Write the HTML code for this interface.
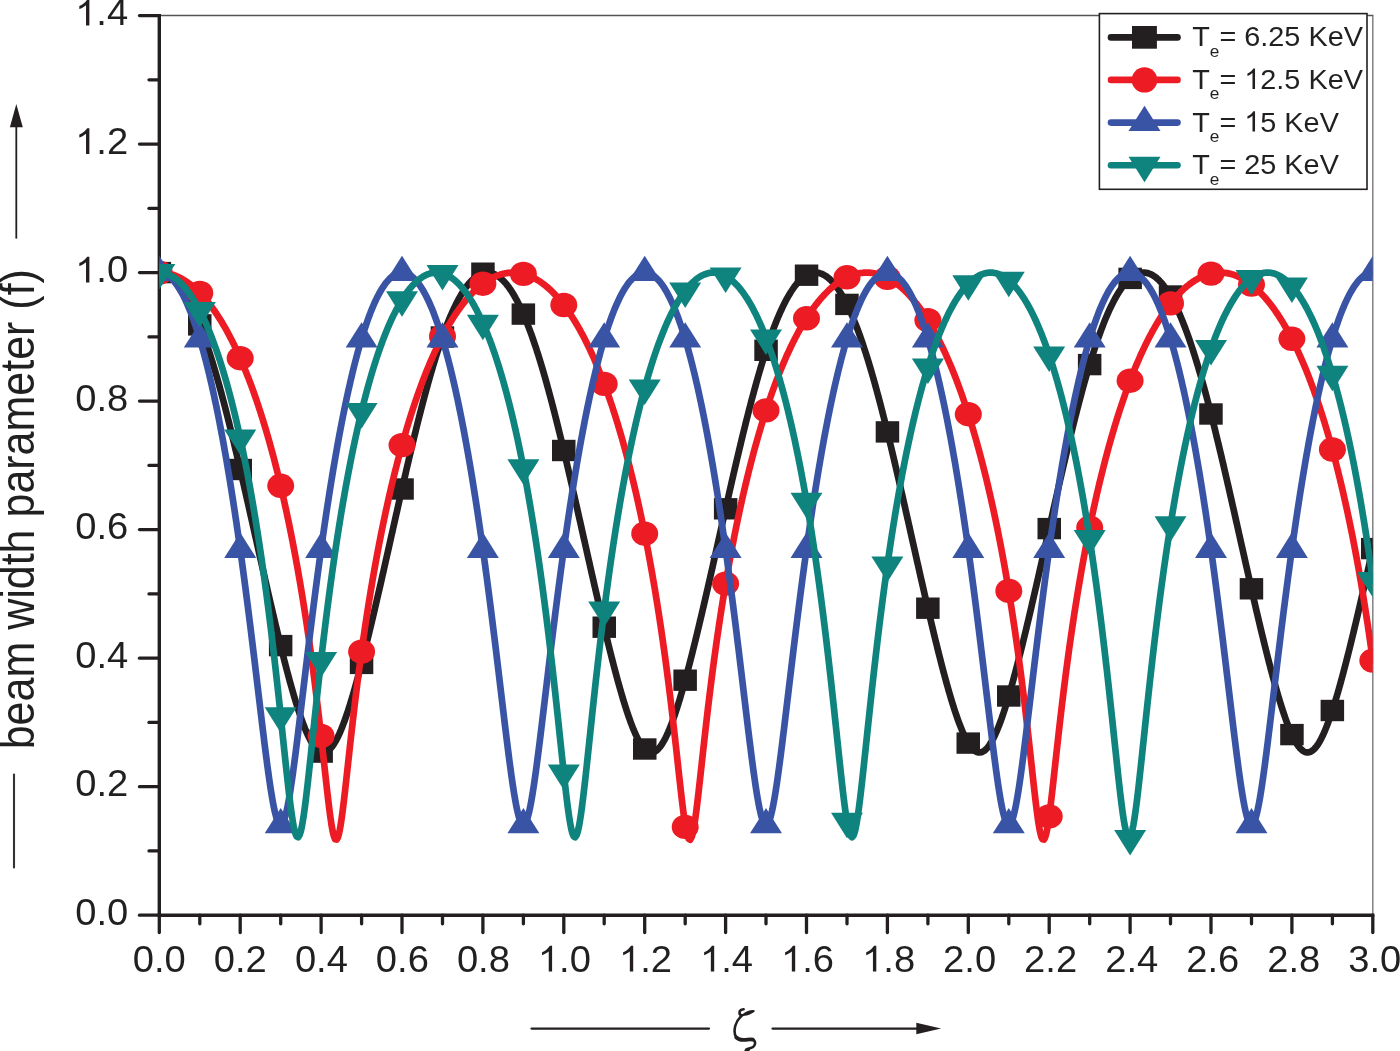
<!DOCTYPE html>
<html><head><meta charset="utf-8"><style>
html,body{margin:0;padding:0;background:#fff;}
svg{display:block;}
text{filter:grayscale(1);}
.tl{font-family:"Liberation Sans",sans-serif;font-size:36px;fill:#231f20;}
.lg{font-family:"Liberation Sans",sans-serif;font-size:28.4px;fill:#231f20;}
.sub{font-size:17px;}
.one{fill:none;}
.yl{font-family:"Liberation Sans",sans-serif;font-size:43px;fill:#231f20;}
.zeta{font-family:"Liberation Serif",serif;font-style:italic;font-size:44px;fill:#231f20;}
</style></head><body>
<svg width="1400" height="1051" viewBox="0 0 1400 1051">
<rect width="1400" height="1051" fill="#fff"/>
<defs><clipPath id="pc"><rect x="159.3" y="15.6" width="1213.4" height="899.6"/></clipPath></defs>
<line x1="159.3" y1="15.5" x2="1373.4" y2="15.5" stroke="#575355" stroke-width="1.3"/>
<line x1="1372.8" y1="15.5" x2="1372.8" y2="915.2" stroke="#7a787a" stroke-width="1.4"/>
<line x1="139.5" y1="915.2" x2="159.3" y2="915.2" stroke="#231f20" stroke-width="3.3" stroke-linecap="round"/>
<line x1="149" y1="850.9" x2="159.3" y2="850.9" stroke="#231f20" stroke-width="3.3" stroke-linecap="round"/>
<line x1="139.5" y1="786.7" x2="159.3" y2="786.7" stroke="#231f20" stroke-width="3.3" stroke-linecap="round"/>
<line x1="149" y1="722.4" x2="159.3" y2="722.4" stroke="#231f20" stroke-width="3.3" stroke-linecap="round"/>
<line x1="139.5" y1="658.2" x2="159.3" y2="658.2" stroke="#231f20" stroke-width="3.3" stroke-linecap="round"/>
<line x1="149" y1="593.9" x2="159.3" y2="593.9" stroke="#231f20" stroke-width="3.3" stroke-linecap="round"/>
<line x1="139.5" y1="529.6" x2="159.3" y2="529.6" stroke="#231f20" stroke-width="3.3" stroke-linecap="round"/>
<line x1="149" y1="465.4" x2="159.3" y2="465.4" stroke="#231f20" stroke-width="3.3" stroke-linecap="round"/>
<line x1="139.5" y1="401.1" x2="159.3" y2="401.1" stroke="#231f20" stroke-width="3.3" stroke-linecap="round"/>
<line x1="149" y1="336.9" x2="159.3" y2="336.9" stroke="#231f20" stroke-width="3.3" stroke-linecap="round"/>
<line x1="139.5" y1="272.6" x2="159.3" y2="272.6" stroke="#231f20" stroke-width="3.3" stroke-linecap="round"/>
<line x1="149" y1="208.3" x2="159.3" y2="208.3" stroke="#231f20" stroke-width="3.3" stroke-linecap="round"/>
<line x1="139.5" y1="144.1" x2="159.3" y2="144.1" stroke="#231f20" stroke-width="3.3" stroke-linecap="round"/>
<line x1="149" y1="79.8" x2="159.3" y2="79.8" stroke="#231f20" stroke-width="3.3" stroke-linecap="round"/>
<line x1="139.5" y1="15.6" x2="159.3" y2="15.6" stroke="#231f20" stroke-width="3.3" stroke-linecap="round"/>
<line x1="159.3" y1="915.2" x2="159.3" y2="932.5" stroke="#231f20" stroke-width="3.3" stroke-linecap="round"/>
<line x1="199.8" y1="915.2" x2="199.8" y2="923.8" stroke="#231f20" stroke-width="3.3" stroke-linecap="round"/>
<line x1="240.2" y1="915.2" x2="240.2" y2="932.5" stroke="#231f20" stroke-width="3.3" stroke-linecap="round"/>
<line x1="280.7" y1="915.2" x2="280.7" y2="923.8" stroke="#231f20" stroke-width="3.3" stroke-linecap="round"/>
<line x1="321.1" y1="915.2" x2="321.1" y2="932.5" stroke="#231f20" stroke-width="3.3" stroke-linecap="round"/>
<line x1="361.6" y1="915.2" x2="361.6" y2="923.8" stroke="#231f20" stroke-width="3.3" stroke-linecap="round"/>
<line x1="402.0" y1="915.2" x2="402.0" y2="932.5" stroke="#231f20" stroke-width="3.3" stroke-linecap="round"/>
<line x1="442.5" y1="915.2" x2="442.5" y2="923.8" stroke="#231f20" stroke-width="3.3" stroke-linecap="round"/>
<line x1="482.9" y1="915.2" x2="482.9" y2="932.5" stroke="#231f20" stroke-width="3.3" stroke-linecap="round"/>
<line x1="523.4" y1="915.2" x2="523.4" y2="923.8" stroke="#231f20" stroke-width="3.3" stroke-linecap="round"/>
<line x1="563.8" y1="915.2" x2="563.8" y2="932.5" stroke="#231f20" stroke-width="3.3" stroke-linecap="round"/>
<line x1="604.2" y1="915.2" x2="604.2" y2="923.8" stroke="#231f20" stroke-width="3.3" stroke-linecap="round"/>
<line x1="644.7" y1="915.2" x2="644.7" y2="932.5" stroke="#231f20" stroke-width="3.3" stroke-linecap="round"/>
<line x1="685.2" y1="915.2" x2="685.2" y2="923.8" stroke="#231f20" stroke-width="3.3" stroke-linecap="round"/>
<line x1="725.6" y1="915.2" x2="725.6" y2="932.5" stroke="#231f20" stroke-width="3.3" stroke-linecap="round"/>
<line x1="766.0" y1="915.2" x2="766.0" y2="923.8" stroke="#231f20" stroke-width="3.3" stroke-linecap="round"/>
<line x1="806.5" y1="915.2" x2="806.5" y2="932.5" stroke="#231f20" stroke-width="3.3" stroke-linecap="round"/>
<line x1="847.0" y1="915.2" x2="847.0" y2="923.8" stroke="#231f20" stroke-width="3.3" stroke-linecap="round"/>
<line x1="887.4" y1="915.2" x2="887.4" y2="932.5" stroke="#231f20" stroke-width="3.3" stroke-linecap="round"/>
<line x1="927.9" y1="915.2" x2="927.9" y2="923.8" stroke="#231f20" stroke-width="3.3" stroke-linecap="round"/>
<line x1="968.3" y1="915.2" x2="968.3" y2="932.5" stroke="#231f20" stroke-width="3.3" stroke-linecap="round"/>
<line x1="1008.8" y1="915.2" x2="1008.8" y2="923.8" stroke="#231f20" stroke-width="3.3" stroke-linecap="round"/>
<line x1="1049.2" y1="915.2" x2="1049.2" y2="932.5" stroke="#231f20" stroke-width="3.3" stroke-linecap="round"/>
<line x1="1089.7" y1="915.2" x2="1089.7" y2="923.8" stroke="#231f20" stroke-width="3.3" stroke-linecap="round"/>
<line x1="1130.1" y1="915.2" x2="1130.1" y2="932.5" stroke="#231f20" stroke-width="3.3" stroke-linecap="round"/>
<line x1="1170.5" y1="915.2" x2="1170.5" y2="923.8" stroke="#231f20" stroke-width="3.3" stroke-linecap="round"/>
<line x1="1211.0" y1="915.2" x2="1211.0" y2="932.5" stroke="#231f20" stroke-width="3.3" stroke-linecap="round"/>
<line x1="1251.5" y1="915.2" x2="1251.5" y2="923.8" stroke="#231f20" stroke-width="3.3" stroke-linecap="round"/>
<line x1="1291.9" y1="915.2" x2="1291.9" y2="932.5" stroke="#231f20" stroke-width="3.3" stroke-linecap="round"/>
<line x1="1332.4" y1="915.2" x2="1332.4" y2="923.8" stroke="#231f20" stroke-width="3.3" stroke-linecap="round"/>
<line x1="1372.8" y1="915.2" x2="1372.8" y2="932.5" stroke="#231f20" stroke-width="3.3" stroke-linecap="round"/>
<line x1="159.3" y1="14" x2="159.3" y2="917.0" stroke="#231f20" stroke-width="3.4"/>
<line x1="157.6" y1="915.2" x2="1374.3" y2="915.2" stroke="#231f20" stroke-width="3.6"/>
<g clip-path="url(#pc)">
<path d="M159.3,272.6 160.8,272.7 162.3,272.9 163.8,273.2 165.3,273.8 166.8,274.4 168.3,275.2 169.8,276.1 171.3,277.2 172.8,278.4 174.3,279.8 175.8,281.3 177.3,283.0 178.8,284.8 180.3,286.8 181.8,288.8 183.3,291.1 184.3,292.7 185.3,294.3 186.3,296.0 187.3,297.7 188.3,299.6 189.3,301.5 190.3,303.4 191.3,305.4 192.3,307.5 193.3,309.6 194.3,311.8 195.3,314.1 196.3,316.4 197.3,318.8 198.3,321.2 199.3,323.8 200.3,326.3 201.3,328.9 202.3,331.6 203.3,334.4 204.3,337.2 205.3,340.0 206.3,343.0 207.3,345.9 207.8,347.4 208.3,349.0 208.8,350.5 209.3,352.0 209.8,353.6 210.3,355.2 210.8,356.8 211.3,358.4 211.8,360.0 212.3,361.6 212.8,363.2 213.3,364.9 213.8,366.6 214.3,368.3 214.8,369.9 215.3,371.6 215.8,373.4 216.3,375.1 216.8,376.8 217.3,378.6 217.8,380.4 218.3,382.1 218.8,383.9 219.3,385.7 219.8,387.5 220.3,389.4 220.8,391.2 221.3,393.0 221.8,394.9 222.3,396.8 222.8,398.6 223.3,400.5 223.8,402.4 224.3,404.3 224.8,406.3 225.3,408.2 225.8,410.1 226.3,412.1 226.8,414.0 227.3,416.0 227.8,418.0 228.3,419.9 228.8,421.9 229.3,423.9 229.8,426.0 230.3,428.0 230.8,430.0 231.3,432.0 231.8,434.1 232.3,436.1 232.8,438.2 233.3,440.2 233.8,442.3 234.3,444.4 234.8,446.5 235.3,448.6 235.8,450.7 236.3,452.8 236.8,454.9 237.3,457.0 237.8,459.1 238.3,461.3 238.8,463.4 239.3,465.5 239.8,467.7 240.3,469.8 240.8,472.0 241.3,474.2 241.8,476.3 242.3,478.5 242.8,480.7 243.3,482.8 243.8,485.0 244.3,487.2 244.8,489.4 245.3,491.6 245.8,493.8 246.3,496.0 246.8,498.2 247.3,500.4 247.8,502.6 248.3,504.8 248.8,507.0 249.3,509.2 249.8,511.4 250.3,513.7 250.8,515.9 251.3,518.1 251.8,520.3 252.3,522.5 252.8,524.8 253.3,527.0 253.8,529.2 254.3,531.4 254.8,533.7 255.3,535.9 255.8,538.1 256.3,540.3 256.8,542.6 257.3,544.8 257.8,547.0 258.3,549.3 258.8,551.5 259.3,553.7 259.8,555.9 260.3,558.1 260.8,560.4 261.3,562.6 261.8,564.8 262.3,567.0 262.8,569.2 263.3,571.4 263.8,573.6 264.3,575.8 264.8,578.0 265.3,580.2 265.8,582.4 266.3,584.6 266.8,586.8 267.3,589.0 267.8,591.2 268.3,593.4 268.8,595.5 269.3,597.7 269.8,599.9 270.3,602.0 270.8,604.2 271.3,606.3 271.8,608.5 272.3,610.6 272.8,612.8 273.3,614.9 273.8,617.0 274.3,619.1 274.8,621.2 275.3,623.4 275.8,625.5 276.3,627.5 276.8,629.6 277.3,631.7 277.8,633.8 278.3,635.8 278.8,637.9 279.3,640.0 279.8,642.0 280.3,644.0 280.7,646.0 281.2,648.1 281.7,650.1 282.2,652.1 282.7,654.1 283.2,656.0 283.7,658.0 284.2,660.0 284.7,661.9 285.2,663.8 285.7,665.8 286.2,667.7 286.7,669.6 287.2,671.5 287.7,673.4 288.2,675.2 288.7,677.1 289.2,678.9 289.7,680.8 290.2,682.6 290.7,684.4 291.2,686.2 291.7,687.9 292.2,689.7 292.7,691.4 293.2,693.2 293.7,694.9 294.2,696.6 294.7,698.2 295.2,699.9 295.7,701.6 296.2,703.2 296.7,704.8 297.2,706.4 297.7,708.0 298.2,709.5 298.7,711.0 299.2,712.5 300.2,715.5 301.2,718.4 302.2,721.2 303.2,723.9 304.2,726.5 305.2,729.0 306.2,731.3 307.2,733.6 308.2,735.8 309.2,737.8 310.2,739.8 311.2,741.6 312.2,743.3 313.2,744.8 314.7,746.9 316.2,748.6 317.7,750.1 319.2,751.2 320.7,751.9 322.2,752.4 323.7,752.4 325.2,752.2 326.7,751.6 328.2,750.6 329.7,749.4 331.2,747.7 332.7,745.8 334.2,743.6 335.2,741.9 336.2,740.2 337.2,738.3 338.2,736.2 339.2,734.1 340.2,731.8 341.2,729.5 342.2,727.0 343.2,724.4 344.2,721.8 345.2,719.0 346.2,716.1 347.2,713.2 347.7,711.7 348.2,710.2 348.7,708.6 349.2,707.1 349.7,705.5 350.2,703.9 350.7,702.2 351.2,700.6 351.7,699.0 352.2,697.3 352.7,695.6 353.2,693.9 353.7,692.2 354.2,690.4 354.7,688.7 355.2,686.9 355.7,685.1 356.2,683.3 356.7,681.5 357.2,679.7 357.7,677.9 358.2,676.0 358.7,674.2 359.2,672.3 359.7,670.4 360.2,668.5 360.7,666.6 361.2,664.7 361.7,662.7 362.2,660.8 362.7,658.8 363.2,656.9 363.7,654.9 364.2,652.9 364.7,650.9 365.2,648.9 365.7,646.9 366.2,644.9 366.7,642.9 367.2,640.8 367.7,638.8 368.2,636.7 368.7,634.7 369.2,632.6 369.7,630.5 370.2,628.4 370.7,626.3 371.2,624.2 371.7,622.1 372.2,620.0 372.7,617.9 373.2,615.8 373.7,613.7 374.2,611.5 374.7,609.4 375.2,607.3 375.7,605.1 376.2,602.9 376.7,600.8 377.2,598.6 377.7,596.5 378.2,594.3 378.7,592.1 379.2,589.9 379.7,587.7 380.2,585.6 380.7,583.4 381.2,581.2 381.7,579.0 382.2,576.8 382.7,574.6 383.2,572.4 383.7,570.2 384.2,567.9 384.7,565.7 385.2,563.5 385.7,561.3 386.2,559.1 386.7,556.9 387.2,554.6 387.7,552.4 388.2,550.2 388.7,548.0 389.2,545.8 389.7,543.5 390.2,541.3 390.7,539.1 391.2,536.8 391.7,534.6 392.2,532.4 392.7,530.2 393.2,527.9 393.7,525.7 394.2,523.5 394.7,521.3 395.2,519.0 395.7,516.8 396.2,514.6 396.7,512.4 397.2,510.2 397.7,508.0 398.2,505.7 398.7,503.5 399.2,501.3 399.7,499.1 400.2,496.9 400.7,494.7 401.2,492.5 401.7,490.3 402.2,488.1 402.7,485.9 403.2,483.8 403.7,481.6 404.2,479.4 404.7,477.2 405.2,475.1 405.7,472.9 406.2,470.8 406.7,468.6 407.2,466.5 407.7,464.3 408.2,462.2 408.7,460.0 409.2,457.9 409.7,455.8 410.2,453.7 410.7,451.6 411.2,449.5 411.7,447.4 412.2,445.3 412.7,443.2 413.2,441.1 413.7,439.1 414.2,437.0 414.7,434.9 415.2,432.9 415.7,430.9 416.2,428.8 416.7,426.8 417.2,424.8 417.7,422.8 418.2,420.8 418.7,418.8 419.2,416.8 419.7,414.9 420.2,412.9 420.7,410.9 421.2,409.0 421.7,407.1 422.2,405.2 422.7,403.2 423.2,401.3 423.7,399.4 424.2,397.6 424.7,395.7 425.2,393.8 425.7,392.0 426.2,390.1 426.7,388.3 427.2,386.5 427.7,384.7 428.2,382.9 428.7,381.1 429.2,379.3 429.7,377.6 430.2,375.8 430.7,374.1 431.2,372.4 431.7,370.7 432.2,369.0 432.7,367.3 433.2,365.6 433.7,364.0 434.2,362.3 434.7,360.7 435.2,359.1 435.7,357.4 436.2,355.8 436.7,354.3 437.2,352.7 437.7,351.1 438.2,349.6 438.7,348.1 439.2,346.6 440.2,343.6 441.2,340.7 442.2,337.8 443.2,335.0 444.2,332.2 445.2,329.5 446.2,326.9 447.2,324.3 448.2,321.8 449.2,319.3 450.2,316.9 451.2,314.6 452.2,312.3 453.2,310.1 454.2,307.9 455.2,305.9 456.2,303.8 457.2,301.9 458.2,300.0 459.2,298.1 460.2,296.4 461.2,294.6 462.2,293.0 463.2,291.4 464.2,289.9 465.7,287.7 467.2,285.7 468.7,283.8 470.2,282.1 471.7,280.5 473.2,279.1 474.7,277.8 476.2,276.6 477.7,275.6 479.2,274.8 480.7,274.0 482.2,273.5 483.7,273.0 485.2,272.8 486.7,272.6 488.2,272.6 489.7,272.8 491.2,273.1 492.7,273.5 494.2,274.1 495.7,274.8 497.2,275.7 498.7,276.7 500.2,277.8 501.7,279.2 503.2,280.6 504.7,282.2 506.2,283.9 507.7,285.8 509.2,287.8 510.7,290.0 511.7,291.5 512.7,293.1 513.7,294.8 514.7,296.5 515.7,298.3 516.7,300.1 517.7,302.0 518.7,304.0 519.7,306.0 520.7,308.1 521.7,310.3 522.7,312.5 523.6,314.8 524.6,317.1 525.6,319.5 526.6,322.0 527.6,324.5 528.6,327.1 529.6,329.7 530.6,332.4 531.6,335.2 532.6,338.0 533.6,340.9 534.6,343.8 535.6,346.8 536.1,348.3 536.6,349.8 537.1,351.4 537.6,352.9 538.1,354.5 538.6,356.1 539.1,357.7 539.6,359.3 540.1,360.9 540.6,362.5 541.1,364.2 541.6,365.9 542.1,367.5 542.6,369.2 543.1,370.9 543.6,372.6 544.1,374.4 544.6,376.1 545.1,377.8 545.6,379.6 546.1,381.4 546.6,383.2 547.1,385.0 547.6,386.8 548.1,388.6 548.6,390.4 549.1,392.3 549.6,394.1 550.1,396.0 550.6,397.8 551.1,399.7 551.6,401.6 552.1,403.5 552.6,405.4 553.1,407.4 553.6,409.3 554.1,411.2 554.6,413.2 555.1,415.2 555.6,417.1 556.1,419.1 556.6,421.1 557.1,423.1 557.6,425.1 558.1,427.1 558.6,429.1 559.1,431.2 559.6,433.2 560.1,435.3 560.6,437.3 561.1,439.4 561.6,441.4 562.1,443.5 562.6,445.6 563.1,447.7 563.6,449.8 564.1,451.9 564.6,454.0 565.1,456.1 565.6,458.2 566.1,460.4 566.6,462.5 567.1,464.6 567.6,466.8 568.1,468.9 568.6,471.1 569.1,473.2 569.6,475.4 570.1,477.6 570.6,479.7 571.1,481.9 571.6,484.1 572.1,486.3 572.6,488.5 573.1,490.7 573.6,492.8 574.1,495.0 574.6,497.2 575.1,499.4 575.6,501.7 576.1,503.9 576.6,506.1 577.1,508.3 577.6,510.5 578.1,512.7 578.6,514.9 579.1,517.2 579.6,519.4 580.1,521.6 580.6,523.8 581.1,526.0 581.6,528.3 582.1,530.5 582.6,532.7 583.1,534.9 583.6,537.2 584.1,539.4 584.6,541.6 585.1,543.9 585.6,546.1 586.1,548.3 586.6,550.5 587.1,552.8 587.6,555.0 588.1,557.2 588.6,559.4 589.1,561.6 589.6,563.8 590.1,566.1 590.6,568.3 591.1,570.5 591.6,572.7 592.1,574.9 592.6,577.1 593.1,579.3 593.6,581.5 594.1,583.7 594.6,585.9 595.1,588.1 595.6,590.3 596.1,592.4 596.6,594.6 597.1,596.8 597.6,598.9 598.1,601.1 598.6,603.3 599.1,605.4 599.6,607.6 600.1,609.7 600.6,611.9 601.1,614.0 601.6,616.1 602.1,618.2 602.6,620.3 603.1,622.5 603.6,624.6 604.1,626.7 604.6,628.7 605.1,630.8 605.6,632.9 606.1,635.0 606.6,637.0 607.1,639.1 607.6,641.1 608.1,643.2 608.6,645.2 609.1,647.2 609.6,649.2 610.1,651.2 610.6,653.2 611.1,655.2 611.6,657.2 612.1,659.1 612.6,661.1 613.1,663.0 613.6,665.0 614.1,666.9 614.6,668.8 615.1,670.7 615.6,672.6 616.1,674.4 616.6,676.3 617.1,678.1 617.6,680.0 618.1,681.8 618.6,683.6 619.1,685.4 619.6,687.2 620.1,688.9 620.6,690.7 621.1,692.4 621.6,694.1 622.1,695.8 622.6,697.5 623.1,699.2 623.6,700.9 624.1,702.5 624.6,704.1 625.1,705.7 625.6,707.3 626.1,708.8 626.6,710.4 627.1,711.9 627.6,713.4 628.6,716.3 629.6,719.2 630.6,722.0 631.6,724.6 632.6,727.2 633.6,729.6 634.6,732.0 635.6,734.3 636.6,736.4 637.6,738.4 638.6,740.3 639.6,742.1 640.6,743.7 641.6,745.2 643.1,747.2 644.6,748.9 646.1,750.3 647.6,751.3 649.1,752.0 650.6,752.4 652.1,752.4 653.6,752.1 655.1,751.4 656.6,750.4 658.1,749.1 659.6,747.4 661.1,745.4 662.6,743.1 663.6,741.4 664.6,739.6 665.6,737.7 666.6,735.6 667.6,733.5 668.6,731.2 669.6,728.8 670.6,726.3 671.6,723.7 672.6,721.0 673.6,718.2 674.6,715.3 675.6,712.3 676.1,710.8 676.6,709.3 677.1,707.7 677.6,706.1 678.1,704.6 678.6,702.9 679.1,701.3 679.6,699.7 680.1,698.0 680.6,696.3 681.1,694.6 681.6,692.9 682.1,691.2 682.6,689.4 683.1,687.7 683.6,685.9 684.1,684.1 684.6,682.3 685.1,680.5 685.6,678.7 686.1,676.8 686.6,675.0 687.1,673.1 687.6,671.2 688.1,669.3 688.6,667.4 689.1,665.5 689.6,663.6 690.1,661.6 690.6,659.7 691.1,657.7 691.6,655.7 692.1,653.8 692.6,651.8 693.1,649.8 693.6,647.8 694.1,645.7 694.6,643.7 695.1,641.7 695.6,639.6 696.1,637.6 696.6,635.5 697.1,633.5 697.6,631.4 698.1,629.3 698.6,627.2 699.1,625.1 699.6,623.0 700.1,620.9 700.6,618.8 701.1,616.7 701.6,614.6 702.1,612.4 702.6,610.3 703.1,608.2 703.6,606.0 704.1,603.9 704.6,601.7 705.1,599.5 705.6,597.4 706.1,595.2 706.6,593.0 707.1,590.9 707.6,588.7 708.1,586.5 708.6,584.3 709.1,582.1 709.6,579.9 710.1,577.7 710.6,575.5 711.1,573.3 711.6,571.1 712.1,568.9 712.6,566.7 713.1,564.5 713.6,562.2 714.1,560.0 714.6,557.8 715.1,555.6 715.6,553.4 716.1,551.1 716.6,548.9 717.1,546.7 717.6,544.5 718.1,542.2 718.6,540.0 719.1,537.8 719.6,535.6 720.1,533.3 720.6,531.1 721.1,528.9 721.6,526.7 722.1,524.4 722.6,522.2 723.1,520.0 723.6,517.8 724.1,515.5 724.6,513.3 725.1,511.1 725.6,508.9 726.1,506.7 726.6,504.5 727.1,502.3 727.6,500.1 728.1,497.9 728.6,495.7 729.1,493.5 729.6,491.3 730.1,489.1 730.6,486.9 731.1,484.7 731.6,482.5 732.1,480.3 732.6,478.2 733.1,476.0 733.6,473.8 734.1,471.7 734.6,469.5 735.1,467.4 735.6,465.2 736.1,463.1 736.6,460.9 737.1,458.8 737.6,456.7 738.1,454.6 738.6,452.5 739.1,450.4 739.6,448.3 740.1,446.2 740.6,444.1 741.1,442.0 741.6,439.9 742.1,437.9 742.6,435.8 743.1,433.8 743.6,431.7 744.1,429.7 744.6,427.7 745.1,425.7 745.6,423.6 746.1,421.6 746.6,419.7 747.1,417.7 747.6,415.7 748.1,413.7 748.6,411.8 749.1,409.8 749.6,407.9 750.1,406.0 750.6,404.1 751.1,402.1 751.6,400.2 752.1,398.4 752.6,396.5 753.1,394.6 753.6,392.8 754.1,390.9 754.6,389.1 755.1,387.3 755.6,385.5 756.1,383.7 756.6,381.9 757.1,380.1 757.6,378.3 758.1,376.6 758.6,374.8 759.1,373.1 759.6,371.4 760.1,369.7 760.6,368.0 761.1,366.3 761.6,364.7 762.1,363.0 762.6,361.4 763.1,359.7 763.6,358.1 764.1,356.5 764.6,354.9 765.1,353.4 765.6,351.8 766.0,350.3 766.5,348.7 767.0,347.2 767.5,345.7 768.5,342.7 769.5,339.8 770.5,337.0 771.5,334.2 772.5,331.4 773.5,328.7 774.5,326.1 775.5,323.6 776.5,321.1 777.5,318.6 778.5,316.2 779.5,313.9 780.5,311.7 781.5,309.5 782.5,307.3 783.5,305.3 784.5,303.3 785.5,301.3 786.5,299.4 787.5,297.6 788.5,295.9 789.5,294.2 790.5,292.5 791.5,291.0 792.5,289.5 794.0,287.3 795.5,285.3 797.0,283.5 798.5,281.8 800.0,280.2 801.5,278.8 803.0,277.6 804.5,276.4 806.0,275.5 807.5,274.6 809.0,273.9 810.5,273.4 812.0,273.0 813.5,272.7 815.0,272.6 816.5,272.6 818.0,272.8 819.5,273.1 821.0,273.6 822.5,274.2 824.0,275.0 825.5,275.9 827.0,276.9 828.5,278.1 830.0,279.4 831.5,280.9 833.0,282.5 834.5,284.3 836.0,286.2 837.5,288.2 839.0,290.4 840.0,292.0 841.0,293.6 842.0,295.3 843.0,297.0 844.0,298.8 845.0,300.6 846.0,302.6 847.0,304.6 848.0,306.6 849.0,308.7 850.0,310.9 851.0,313.1 852.0,315.4 853.0,317.8 854.0,320.2 855.0,322.7 856.0,325.2 857.0,327.8 858.0,330.5 859.0,333.2 860.0,336.0 861.0,338.8 862.0,341.7 863.0,344.6 864.0,347.7 864.5,349.2 865.0,350.7 865.5,352.3 866.0,353.8 866.5,355.4 867.0,357.0 867.5,358.6 868.0,360.2 868.5,361.8 869.0,363.5 869.5,365.2 870.0,366.8 870.5,368.5 871.0,370.2 871.5,371.9 872.0,373.6 872.5,375.4 873.0,377.1 873.5,378.9 874.0,380.6 874.5,382.4 875.0,384.2 875.5,386.0 876.0,387.8 876.5,389.6 877.0,391.5 877.5,393.3 878.0,395.2 878.5,397.0 879.0,398.9 879.5,400.8 880.0,402.7 880.5,404.6 881.0,406.5 881.5,408.5 882.0,410.4 882.5,412.4 883.0,414.3 883.5,416.3 884.0,418.3 884.5,420.2 885.0,422.2 885.5,424.2 886.0,426.3 886.5,428.3 887.0,430.3 887.5,432.3 888.0,434.4 888.5,436.4 889.0,438.5 889.5,440.6 890.0,442.6 890.5,444.7 891.0,446.8 891.5,448.9 892.0,451.0 892.5,453.1 893.0,455.2 893.5,457.3 894.0,459.5 894.5,461.6 895.0,463.7 895.5,465.9 896.0,468.0 896.5,470.2 897.0,472.3 897.5,474.5 898.0,476.6 898.5,478.8 899.0,481.0 899.5,483.2 900.0,485.3 900.5,487.5 901.0,489.7 901.5,491.9 902.0,494.1 902.5,496.3 903.0,498.5 903.5,500.7 904.0,502.9 904.5,505.1 905.0,507.3 905.5,509.6 906.0,511.8 906.5,514.0 907.0,516.2 907.5,518.4 908.0,520.6 908.5,522.9 909.0,525.1 909.5,527.3 910.0,529.5 910.5,531.8 911.0,534.0 911.5,536.2 912.0,538.5 912.5,540.7 913.0,542.9 913.5,545.1 914.0,547.4 914.5,549.6 915.0,551.8 915.5,554.0 916.0,556.2 916.5,558.5 917.0,560.7 917.5,562.9 918.0,565.1 918.5,567.3 919.0,569.5 919.5,571.8 920.0,574.0 920.5,576.2 921.0,578.4 921.5,580.6 922.0,582.8 922.5,584.9 923.0,587.1 923.5,589.3 924.0,591.5 924.5,593.7 925.0,595.9 925.5,598.0 926.0,600.2 926.5,602.3 927.0,604.5 927.5,606.7 928.0,608.8 928.5,610.9 929.0,613.1 929.5,615.2 930.0,617.3 930.5,619.4 931.0,621.6 931.5,623.7 932.0,625.8 932.5,627.9 933.0,629.9 933.5,632.0 934.0,634.1 934.5,636.2 935.0,638.2 935.5,640.3 936.0,642.3 936.5,644.3 937.0,646.3 937.5,648.4 938.0,650.4 938.5,652.4 939.0,654.3 939.5,656.3 940.0,658.3 940.5,660.2 941.0,662.2 941.5,664.1 942.0,666.1 942.5,668.0 943.0,669.9 943.5,671.8 944.0,673.6 944.5,675.5 945.0,677.4 945.5,679.2 946.0,681.0 946.5,682.8 947.0,684.6 947.5,686.4 948.0,688.2 948.5,690.0 949.0,691.7 949.5,693.4 950.0,695.1 950.5,696.8 951.0,698.5 951.5,700.2 952.0,701.8 952.5,703.4 953.0,705.0 953.5,706.6 954.0,708.2 954.5,709.7 955.0,711.3 955.5,712.8 956.5,715.7 957.5,718.6 958.5,721.4 959.5,724.1 960.5,726.6 961.5,729.1 962.5,731.5 963.5,733.8 964.5,735.9 965.5,738.0 966.5,739.9 967.5,741.7 968.5,743.4 969.5,744.9 971.0,747.0 972.5,748.7 974.0,750.1 975.5,751.2 977.0,752.0 978.5,752.4 980.0,752.4 981.5,752.2 983.0,751.5 984.5,750.6 986.0,749.3 987.5,747.7 989.0,745.7 990.5,743.5 991.5,741.8 992.5,740.0 993.5,738.1 994.5,736.1 995.5,733.9 996.5,731.7 997.5,729.3 998.5,726.8 999.5,724.2 1000.5,721.5 1001.5,718.8 1002.5,715.9 1003.5,713.0 1004.0,711.5 1004.5,709.9 1005.0,708.4 1005.5,706.8 1006.0,705.2 1006.5,703.6 1007.0,702.0 1007.5,700.4 1008.0,698.7 1008.5,697.0 1008.9,695.3 1009.4,693.6 1009.9,691.9 1010.4,690.2 1010.9,688.4 1011.4,686.7 1011.9,684.9 1012.4,683.1 1012.9,681.3 1013.4,679.4 1013.9,677.6 1014.4,675.7 1014.9,673.9 1015.4,672.0 1015.9,670.1 1016.4,668.2 1016.9,666.3 1017.4,664.4 1017.9,662.4 1018.4,660.5 1018.9,658.5 1019.4,656.6 1019.9,654.6 1020.4,652.6 1020.9,650.6 1021.4,648.6 1021.9,646.6 1022.4,644.6 1022.9,642.6 1023.4,640.5 1023.9,638.5 1024.4,636.4 1024.9,634.4 1025.4,632.3 1025.9,630.2 1026.4,628.1 1026.9,626.0 1027.4,623.9 1027.9,621.8 1028.4,619.7 1028.9,617.6 1029.4,615.5 1029.9,613.4 1030.4,611.2 1030.9,609.1 1031.4,606.9 1031.9,604.8 1032.4,602.6 1032.9,600.5 1033.4,598.3 1033.9,596.1 1034.4,594.0 1034.9,591.8 1035.4,589.6 1035.9,587.4 1036.4,585.2 1036.9,583.0 1037.4,580.8 1037.9,578.7 1038.4,576.4 1038.9,574.2 1039.4,572.0 1039.9,569.8 1040.4,567.6 1040.9,565.4 1041.4,563.2 1041.9,561.0 1042.4,558.8 1042.9,556.5 1043.4,554.3 1043.9,552.1 1044.4,549.9 1044.9,547.6 1045.4,545.4 1045.9,543.2 1046.4,541.0 1046.9,538.7 1047.4,536.5 1047.9,534.3 1048.4,532.1 1048.9,529.8 1049.4,527.6 1049.9,525.4 1050.4,523.2 1050.9,520.9 1051.4,518.7 1051.9,516.5 1052.4,514.3 1052.9,512.1 1053.4,509.8 1053.9,507.6 1054.4,505.4 1054.9,503.2 1055.4,501.0 1055.9,498.8 1056.4,496.6 1056.9,494.4 1057.4,492.2 1057.9,490.0 1058.4,487.8 1058.9,485.6 1059.4,483.4 1059.9,481.3 1060.4,479.1 1060.9,476.9 1061.4,474.8 1061.9,472.6 1062.4,470.4 1062.9,468.3 1063.4,466.1 1063.9,464.0 1064.4,461.9 1064.9,459.7 1065.4,457.6 1065.9,455.5 1066.4,453.4 1066.9,451.3 1067.4,449.2 1067.9,447.1 1068.4,445.0 1068.9,442.9 1069.4,440.8 1069.9,438.8 1070.4,436.7 1070.9,434.6 1071.4,432.6 1071.9,430.6 1072.4,428.5 1072.9,426.5 1073.4,424.5 1073.9,422.5 1074.4,420.5 1074.9,418.5 1075.4,416.5 1075.9,414.6 1076.4,412.6 1076.9,410.7 1077.4,408.7 1077.9,406.8 1078.4,404.9 1078.9,403.0 1079.4,401.1 1079.9,399.2 1080.4,397.3 1080.9,395.4 1081.4,393.6 1081.9,391.7 1082.4,389.9 1082.9,388.0 1083.4,386.2 1083.9,384.4 1084.4,382.6 1084.9,380.9 1085.4,379.1 1085.9,377.3 1086.4,375.6 1086.9,373.8 1087.4,372.1 1087.9,370.4 1088.4,368.7 1088.9,367.0 1089.4,365.4 1089.9,363.7 1090.4,362.1 1090.9,360.4 1091.4,358.8 1091.9,357.2 1092.4,355.6 1092.9,354.0 1093.4,352.5 1093.9,350.9 1094.4,349.4 1094.9,347.9 1095.4,346.3 1096.4,343.4 1097.4,340.4 1098.4,337.6 1099.4,334.8 1100.4,332.0 1101.4,329.3 1102.4,326.7 1103.4,324.1 1104.4,321.6 1105.4,319.1 1106.4,316.7 1107.4,314.4 1108.4,312.1 1109.4,309.9 1110.4,307.8 1111.4,305.7 1112.4,303.7 1113.4,301.7 1114.4,299.8 1115.4,298.0 1116.4,296.2 1117.4,294.5 1118.4,292.9 1119.4,291.3 1120.4,289.8 1121.9,287.6 1123.4,285.6 1124.9,283.7 1126.4,282.0 1127.9,280.4 1129.4,279.0 1130.9,277.7 1132.4,276.6 1133.9,275.6 1135.4,274.7 1136.9,274.0 1138.4,273.4 1139.9,273.0 1141.4,272.7 1142.9,272.6 1144.4,272.6 1145.9,272.8 1147.4,273.1 1148.9,273.5 1150.4,274.1 1151.9,274.8 1153.4,275.7 1154.9,276.7 1156.4,277.9 1157.9,279.2 1159.4,280.7 1160.9,282.3 1162.4,284.0 1163.9,285.9 1165.4,287.9 1166.9,290.1 1167.9,291.6 1168.9,293.2 1169.9,294.9 1170.9,296.6 1171.9,298.4 1172.9,300.2 1173.9,302.2 1174.9,304.1 1175.9,306.2 1176.9,308.3 1177.9,310.4 1178.9,312.6 1179.9,314.9 1180.9,317.3 1181.9,319.7 1182.9,322.1 1183.9,324.7 1184.9,327.3 1185.9,329.9 1186.9,332.6 1187.9,335.4 1188.9,338.2 1189.9,341.1 1190.9,344.0 1191.9,347.0 1192.4,348.5 1192.9,350.1 1193.4,351.6 1193.9,353.2 1194.4,354.7 1194.9,356.3 1195.4,357.9 1195.9,359.5 1196.4,361.2 1196.9,362.8 1197.4,364.4 1197.9,366.1 1198.4,367.8 1198.9,369.5 1199.4,371.2 1199.9,372.9 1200.4,374.6 1200.9,376.4 1201.4,378.1 1201.9,379.9 1202.4,381.6 1202.9,383.4 1203.4,385.2 1203.9,387.0 1204.4,388.9 1204.9,390.7 1205.4,392.5 1205.9,394.4 1206.4,396.2 1206.9,398.1 1207.4,400.0 1207.9,401.9 1208.4,403.8 1208.9,405.7 1209.4,407.6 1209.9,409.6 1210.4,411.5 1210.9,413.5 1211.4,415.4 1211.9,417.4 1212.4,419.4 1212.9,421.4 1213.4,423.4 1213.9,425.4 1214.4,427.4 1214.9,429.4 1215.4,431.5 1215.9,433.5 1216.4,435.6 1216.9,437.6 1217.4,439.7 1217.9,441.7 1218.4,443.8 1218.9,445.9 1219.4,448.0 1219.9,450.1 1220.4,452.2 1220.9,454.3 1221.4,456.4 1221.9,458.5 1222.4,460.7 1222.9,462.8 1223.4,464.9 1223.9,467.1 1224.4,469.2 1224.9,471.4 1225.4,473.6 1225.9,475.7 1226.4,477.9 1226.9,480.1 1227.4,482.2 1227.9,484.4 1228.4,486.6 1228.9,488.8 1229.4,491.0 1229.9,493.2 1230.4,495.4 1230.9,497.6 1231.4,499.8 1231.9,502.0 1232.4,504.2 1232.9,506.4 1233.4,508.6 1233.9,510.8 1234.4,513.0 1234.9,515.3 1235.4,517.5 1235.9,519.7 1236.4,521.9 1236.9,524.1 1237.4,526.4 1237.9,528.6 1238.4,530.8 1238.9,533.1 1239.4,535.3 1239.9,537.5 1240.4,539.7 1240.9,542.0 1241.4,544.2 1241.9,546.4 1242.4,548.6 1242.9,550.9 1243.4,553.1 1243.9,555.3 1244.4,557.5 1244.9,559.7 1245.4,562.0 1245.9,564.2 1246.4,566.4 1246.9,568.6 1247.4,570.8 1247.9,573.0 1248.4,575.2 1248.9,577.4 1249.4,579.6 1249.9,581.8 1250.4,584.0 1250.9,586.2 1251.4,588.4 1251.8,590.6 1252.3,592.8 1252.8,594.9 1253.3,597.1 1253.8,599.3 1254.3,601.4 1254.8,603.6 1255.3,605.7 1255.8,607.9 1256.3,610.0 1256.8,612.2 1257.3,614.3 1257.8,616.4 1258.3,618.5 1258.8,620.7 1259.3,622.8 1259.8,624.9 1260.3,627.0 1260.8,629.1 1261.3,631.1 1261.8,633.2 1262.3,635.3 1262.8,637.3 1263.3,639.4 1263.8,641.4 1264.3,643.5 1264.8,645.5 1265.3,647.5 1265.8,649.5 1266.3,651.5 1266.8,653.5 1267.3,655.5 1267.8,657.5 1268.3,659.4 1268.8,661.4 1269.3,663.3 1269.8,665.2 1270.3,667.2 1270.8,669.1 1271.3,671.0 1271.8,672.8 1272.3,674.7 1272.8,676.6 1273.3,678.4 1273.8,680.2 1274.3,682.1 1274.8,683.9 1275.3,685.7 1275.8,687.4 1276.3,689.2 1276.8,691.0 1277.3,692.7 1277.8,694.4 1278.3,696.1 1278.8,697.8 1279.3,699.4 1279.8,701.1 1280.3,702.7 1280.8,704.3 1281.3,705.9 1281.8,707.5 1282.3,709.1 1282.8,710.6 1283.3,712.1 1284.3,715.1 1285.3,718.0 1286.3,720.8 1287.3,723.5 1288.3,726.1 1289.3,728.6 1290.3,731.0 1291.3,733.3 1292.3,735.5 1293.3,737.6 1294.3,739.5 1295.3,741.3 1296.3,743.0 1297.3,744.6 1298.8,746.7 1300.3,748.5 1301.8,749.9 1303.3,751.1 1304.8,751.9 1306.3,752.3 1307.8,752.4 1309.3,752.2 1310.8,751.6 1312.3,750.7 1313.8,749.5 1315.3,747.9 1316.8,746.0 1318.3,743.8 1319.3,742.2 1320.3,740.4 1321.3,738.5 1322.3,736.5 1323.3,734.4 1324.3,732.2 1325.3,729.8 1326.3,727.3 1327.3,724.8 1328.3,722.1 1329.3,719.4 1330.3,716.5 1331.3,713.6 1332.3,710.6 1332.8,709.0 1333.3,707.5 1333.8,705.9 1334.3,704.3 1334.8,702.7 1335.3,701.1 1335.8,699.4 1336.3,697.8 1336.8,696.1 1337.3,694.4 1337.8,692.7 1338.3,690.9 1338.8,689.2 1339.3,687.4 1339.8,685.6 1340.3,683.8 1340.8,682.0 1341.3,680.2 1341.8,678.4 1342.3,676.5 1342.8,674.7 1343.3,672.8 1343.8,670.9 1344.3,669.0 1344.8,667.1 1345.3,665.2 1345.8,663.3 1346.3,661.3 1346.8,659.4 1347.3,657.4 1347.8,655.4 1348.3,653.5 1348.8,651.5 1349.3,649.5 1349.8,647.5 1350.3,645.5 1350.8,643.4 1351.3,641.4 1351.8,639.3 1352.3,637.3 1352.8,635.2 1353.3,633.2 1353.8,631.1 1354.3,629.0 1354.8,626.9 1355.3,624.8 1355.8,622.7 1356.3,620.6 1356.8,618.5 1357.3,616.4 1357.8,614.3 1358.3,612.1 1358.8,610.0 1359.3,607.8 1359.8,605.7 1360.3,603.5 1360.8,601.4 1361.3,599.2 1361.8,597.1 1362.3,594.9 1362.8,592.7 1363.3,590.5 1363.8,588.4 1364.3,586.2 1364.8,584.0 1365.3,581.8 1365.8,579.6 1366.3,577.4 1366.8,575.2 1367.3,573.0 1367.8,570.8 1368.3,568.6 1368.8,566.4 1369.3,564.1 1369.8,561.9 1370.3,559.7 1370.8,557.5 1371.3,555.3 1371.8,553.0 1372.3,550.8 1372.8,548.6" fill="none" stroke="#231f20" stroke-width="6.7" stroke-linejoin="round" stroke-linecap="round"/>
<rect x="147.6" y="261.9" width="23.5" height="21.4" fill="#231f20"/>
<rect x="188.0" y="314.2" width="23.5" height="21.4" fill="#231f20"/>
<rect x="228.5" y="458.8" width="23.5" height="21.4" fill="#231f20"/>
<rect x="268.9" y="634.9" width="23.5" height="21.4" fill="#231f20"/>
<rect x="309.4" y="741.4" width="23.5" height="21.4" fill="#231f20"/>
<rect x="349.8" y="652.7" width="23.5" height="21.4" fill="#231f20"/>
<rect x="390.3" y="478.3" width="23.5" height="21.4" fill="#231f20"/>
<rect x="430.7" y="326.3" width="23.5" height="21.4" fill="#231f20"/>
<rect x="471.2" y="262.5" width="23.5" height="21.4" fill="#231f20"/>
<rect x="511.6" y="303.4" width="23.5" height="21.4" fill="#231f20"/>
<rect x="552.0" y="439.8" width="23.5" height="21.4" fill="#231f20"/>
<rect x="592.5" y="616.5" width="23.5" height="21.4" fill="#231f20"/>
<rect x="633.0" y="738.3" width="23.5" height="21.4" fill="#231f20"/>
<rect x="673.4" y="669.5" width="23.5" height="21.4" fill="#231f20"/>
<rect x="713.9" y="498.1" width="23.5" height="21.4" fill="#231f20"/>
<rect x="754.3" y="339.6" width="23.5" height="21.4" fill="#231f20"/>
<rect x="794.8" y="264.5" width="23.5" height="21.4" fill="#231f20"/>
<rect x="835.2" y="293.7" width="23.5" height="21.4" fill="#231f20"/>
<rect x="875.7" y="421.2" width="23.5" height="21.4" fill="#231f20"/>
<rect x="916.1" y="597.5" width="23.5" height="21.4" fill="#231f20"/>
<rect x="956.5" y="732.4" width="23.5" height="21.4" fill="#231f20"/>
<rect x="997.0" y="685.3" width="23.5" height="21.4" fill="#231f20"/>
<rect x="1037.5" y="517.9" width="23.5" height="21.4" fill="#231f20"/>
<rect x="1077.9" y="353.9" width="23.5" height="21.4" fill="#231f20"/>
<rect x="1118.4" y="267.7" width="23.5" height="21.4" fill="#231f20"/>
<rect x="1158.8" y="285.3" width="23.5" height="21.4" fill="#231f20"/>
<rect x="1199.2" y="403.3" width="23.5" height="21.4" fill="#231f20"/>
<rect x="1239.7" y="578.1" width="23.5" height="21.4" fill="#231f20"/>
<rect x="1280.2" y="723.9" width="23.5" height="21.4" fill="#231f20"/>
<rect x="1320.6" y="699.8" width="23.5" height="21.4" fill="#231f20"/>
<rect x="1361.0" y="537.9" width="23.5" height="21.4" fill="#231f20"/>
<path d="M159.3,272.6 160.8,272.6 162.3,272.7 163.8,272.8 165.3,273.0 166.8,273.3 168.3,273.6 169.8,273.9 171.3,274.4 172.8,274.8 174.3,275.3 175.8,275.9 177.3,276.6 178.8,277.2 180.3,278.0 181.8,278.8 183.3,279.7 184.8,280.6 186.3,281.5 187.8,282.6 189.3,283.7 190.8,284.8 192.3,286.0 193.8,287.3 195.3,288.6 196.8,290.0 198.3,291.4 199.8,292.9 201.3,294.5 202.8,296.1 204.3,297.8 205.8,299.5 207.3,301.3 208.8,303.2 210.3,305.1 211.8,307.1 213.3,309.2 214.8,311.3 216.3,313.5 217.3,315.0 218.3,316.6 219.3,318.1 220.3,319.7 221.3,321.3 222.3,323.0 223.3,324.7 224.3,326.4 225.3,328.1 226.3,329.9 227.3,331.7 228.3,333.6 229.3,335.4 230.3,337.4 231.3,339.3 232.3,341.3 233.3,343.3 234.3,345.3 235.3,347.4 236.3,349.5 237.3,351.7 238.3,353.9 239.3,356.1 240.3,358.3 241.3,360.6 242.3,363.0 243.3,365.3 244.3,367.7 245.3,370.2 246.3,372.7 247.3,375.2 248.3,377.7 249.3,380.4 250.3,383.0 251.3,385.7 252.3,388.4 253.3,391.2 254.3,394.0 255.3,396.8 256.3,399.7 257.3,402.7 258.3,405.6 258.8,407.2 259.3,408.7 259.8,410.2 260.3,411.8 260.8,413.3 261.3,414.9 261.8,416.5 262.3,418.0 262.8,419.6 263.3,421.3 263.8,422.9 264.3,424.5 264.8,426.2 265.3,427.8 265.8,429.5 266.3,431.2 266.8,432.9 267.3,434.6 267.8,436.4 268.3,438.1 268.8,439.8 269.3,441.6 269.8,443.4 270.3,445.2 270.8,447.0 271.3,448.8 271.8,450.7 272.3,452.5 272.8,454.4 273.3,456.2 273.8,458.1 274.3,460.0 274.8,462.0 275.3,463.9 275.8,465.9 276.3,467.8 276.8,469.8 277.3,471.8 277.8,473.8 278.3,475.8 278.8,477.9 279.3,479.9 279.8,482.0 280.3,484.1 280.7,486.2 281.2,488.3 281.7,490.5 282.2,492.6 282.7,494.8 283.2,497.0 283.7,499.2 284.2,501.4 284.7,503.7 285.2,506.0 285.7,508.2 286.2,510.5 286.7,512.9 287.2,515.2 287.7,517.6 288.2,519.9 288.7,522.3 289.2,524.7 289.7,527.2 290.2,529.6 290.7,532.1 291.2,534.6 291.7,537.1 292.2,539.7 292.7,542.2 293.2,544.8 293.7,547.4 294.2,550.1 294.7,552.7 295.2,555.4 295.7,558.1 296.2,560.8 296.7,563.6 297.2,566.3 297.7,569.1 298.2,572.0 298.7,574.8 299.2,577.7 299.7,580.6 300.2,583.5 300.7,586.5 301.2,589.5 301.7,592.5 302.2,595.5 302.7,598.6 303.2,601.7 303.7,604.8 304.2,608.0 304.7,611.2 305.2,614.4 305.7,617.6 306.2,620.9 306.7,624.2 307.2,627.6 307.7,631.0 308.2,634.4 308.7,637.9 309.2,641.4 309.7,644.9 310.2,648.5 310.7,652.1 311.2,655.7 311.7,659.4 312.2,663.1 312.7,666.9 313.2,670.7 313.7,674.5 314.2,678.4 314.7,682.3 315.2,686.3 315.7,690.3 316.2,694.3 316.7,698.4 317.2,702.6 317.7,706.7 318.2,710.9 318.7,715.2 319.2,719.5 319.7,723.8 320.2,728.2 320.7,732.6 321.2,737.0 321.7,741.5 322.2,746.0 322.7,750.5 323.2,755.1 323.7,759.6 324.2,764.2 324.7,768.8 325.2,773.3 325.7,777.9 326.2,782.4 326.7,786.9 327.2,791.3 327.7,795.7 328.2,800.0 328.7,804.1 329.2,808.2 329.7,812.1 330.2,815.9 330.7,819.4 331.2,822.8 331.7,825.9 332.2,828.7 332.7,831.3 333.2,833.6 333.7,835.5 334.2,837.1 335.2,839.2 336.7,839.6 337.7,837.9 338.7,834.7 339.2,832.6 339.7,830.2 340.2,827.5 340.7,824.6 341.2,821.3 341.7,817.9 342.2,814.2 342.7,810.4 343.2,806.4 343.7,802.3 344.2,798.1 344.7,793.8 345.2,789.4 345.7,784.9 346.2,780.4 346.7,775.9 347.2,771.3 347.7,766.8 348.2,762.2 348.7,757.6 349.2,753.1 349.7,748.5 350.2,744.0 350.7,739.5 351.2,735.1 351.7,730.7 352.2,726.3 352.7,721.9 353.2,717.6 353.7,713.3 354.2,709.1 354.7,704.9 355.2,700.7 355.7,696.6 356.2,692.5 356.7,688.5 357.2,684.5 357.7,680.6 358.2,676.7 358.7,672.8 359.2,669.0 359.7,665.2 360.2,661.5 360.7,657.8 361.2,654.1 361.7,650.5 362.2,646.9 362.7,643.3 363.2,639.8 363.7,636.3 364.2,632.9 364.7,629.5 365.2,626.1 365.7,622.8 366.2,619.5 366.7,616.2 367.2,613.0 367.7,609.7 368.2,606.6 368.7,603.4 369.2,600.3 369.7,597.2 370.2,594.2 370.7,591.1 371.2,588.1 371.7,585.2 372.2,582.2 372.7,579.3 373.2,576.4 373.7,573.5 374.2,570.7 374.7,567.9 375.2,565.1 375.7,562.3 376.2,559.6 376.7,556.9 377.2,554.2 377.7,551.5 378.2,548.9 378.7,546.3 379.2,543.7 379.7,541.1 380.2,538.6 380.7,536.0 381.2,533.5 381.7,531.0 382.2,528.6 382.7,526.1 383.2,523.7 383.7,521.3 384.2,518.9 384.7,516.5 385.2,514.2 385.7,511.8 386.2,509.5 386.7,507.2 387.2,505.0 387.7,502.7 388.2,500.5 388.7,498.2 389.2,496.0 389.7,493.9 390.2,491.7 390.7,489.5 391.2,487.4 391.7,485.3 392.2,483.2 392.7,481.1 393.2,479.0 393.7,477.0 394.2,474.9 394.7,472.9 395.2,470.9 395.7,468.9 396.2,467.0 396.7,465.0 397.2,463.1 397.7,461.1 398.2,459.2 398.7,457.3 399.2,455.4 399.7,453.5 400.2,451.7 400.7,449.8 401.2,448.0 401.7,446.2 402.2,444.4 402.7,442.6 403.2,440.8 403.7,439.1 404.2,437.3 404.7,435.6 405.2,433.9 405.7,432.2 406.2,430.5 406.7,428.8 407.2,427.1 407.7,425.5 408.2,423.8 408.7,422.2 409.2,420.5 409.7,418.9 410.2,417.3 410.7,415.8 411.2,414.2 411.7,412.6 412.2,411.1 412.7,409.5 413.2,408.0 413.7,406.5 414.2,405.0 415.2,402.0 416.2,399.1 417.2,396.2 418.2,393.4 419.2,390.6 420.2,387.8 421.2,385.1 422.2,382.4 423.2,379.8 424.2,377.2 425.2,374.6 426.2,372.1 427.2,369.6 428.2,367.2 429.2,364.8 430.2,362.4 431.2,360.1 432.2,357.8 433.2,355.6 434.2,353.4 435.2,351.2 436.2,349.1 437.2,347.0 438.2,344.9 439.2,342.8 440.2,340.8 441.2,338.9 442.2,336.9 443.2,335.0 444.2,333.2 445.2,331.3 446.2,329.5 447.2,327.7 448.2,326.0 449.2,324.3 450.2,322.6 451.2,321.0 452.2,319.4 453.2,317.8 454.2,316.2 455.2,314.7 456.7,312.5 458.2,310.3 459.7,308.2 461.2,306.2 462.7,304.2 464.2,302.3 465.7,300.4 467.2,298.7 468.7,297.0 470.2,295.3 471.7,293.7 473.2,292.2 474.7,290.7 476.2,289.3 477.7,287.9 479.2,286.7 480.7,285.4 482.2,284.2 483.7,283.1 485.2,282.1 486.7,281.1 488.2,280.1 489.7,279.2 491.2,278.4 492.7,277.6 494.2,276.9 495.7,276.2 497.2,275.6 498.7,275.1 500.2,274.6 501.7,274.2 503.2,273.8 504.7,273.4 506.2,273.2 507.7,272.9 509.2,272.8 510.7,272.7 512.2,272.6 513.7,272.6 515.2,272.7 516.7,272.8 518.2,272.9 519.7,273.1 521.2,273.4 522.7,273.8 524.1,274.1 525.6,274.6 527.1,275.1 528.6,275.6 530.1,276.2 531.6,276.9 533.1,277.6 534.6,278.4 536.1,279.2 537.6,280.1 539.1,281.0 540.6,282.0 542.1,283.1 543.6,284.2 545.1,285.4 546.6,286.6 548.1,287.9 549.6,289.2 551.1,290.6 552.6,292.1 554.1,293.6 555.6,295.2 557.1,296.9 558.6,298.6 560.1,300.4 561.6,302.2 563.1,304.1 564.6,306.1 566.1,308.1 567.6,310.2 569.1,312.4 570.6,314.6 571.6,316.1 572.6,317.7 573.6,319.3 574.6,320.9 575.6,322.5 576.6,324.2 577.6,325.9 578.6,327.6 579.6,329.4 580.6,331.2 581.6,333.1 582.6,334.9 583.6,336.8 584.6,338.8 585.6,340.7 586.6,342.7 587.6,344.8 588.6,346.8 589.6,348.9 590.6,351.1 591.6,353.2 592.6,355.5 593.6,357.7 594.6,360.0 595.6,362.3 596.6,364.7 597.6,367.1 598.6,369.5 599.6,372.0 600.6,374.5 601.6,377.0 602.6,379.6 603.6,382.2 604.6,384.9 605.6,387.6 606.6,390.4 607.6,393.2 608.6,396.0 609.6,398.9 610.6,401.8 611.6,404.8 612.1,406.3 612.6,407.8 613.1,409.3 613.6,410.9 614.1,412.4 614.6,414.0 615.1,415.6 615.6,417.2 616.1,418.7 616.6,420.4 617.1,422.0 617.6,423.6 618.1,425.3 618.6,426.9 619.1,428.6 619.6,430.3 620.1,432.0 620.6,433.7 621.1,435.4 621.6,437.1 622.1,438.9 622.6,440.6 623.1,442.4 623.6,444.2 624.1,446.0 624.6,447.8 625.1,449.6 625.6,451.5 626.1,453.3 626.6,455.2 627.1,457.1 627.6,459.0 628.1,460.9 628.6,462.8 629.1,464.8 629.6,466.7 630.1,468.7 630.6,470.7 631.1,472.7 631.6,474.7 632.1,476.7 632.6,478.8 633.1,480.9 633.6,482.9 634.1,485.0 634.6,487.1 635.1,489.3 635.6,491.4 636.1,493.6 636.6,495.8 637.1,498.0 637.6,500.2 638.1,502.4 638.6,504.7 639.1,507.0 639.6,509.2 640.1,511.6 640.6,513.9 641.1,516.2 641.6,518.6 642.1,521.0 642.6,523.4 643.1,525.8 643.6,528.3 644.1,530.7 644.6,533.2 645.1,535.7 645.6,538.2 646.1,540.8 646.6,543.4 647.1,546.0 647.6,548.6 648.1,551.2 648.6,553.9 649.1,556.6 649.6,559.3 650.1,562.0 650.6,564.8 651.1,567.6 651.6,570.4 652.1,573.2 652.6,576.1 653.1,579.0 653.6,581.9 654.1,584.8 654.6,587.8 655.1,590.8 655.6,593.8 656.1,596.9 656.6,599.9 657.1,603.0 657.6,606.2 658.1,609.4 658.6,612.6 659.1,615.8 659.6,619.1 660.1,622.4 660.6,625.7 661.1,629.1 661.6,632.5 662.1,635.9 662.6,639.4 663.1,642.9 663.6,646.5 664.1,650.0 664.6,653.7 665.1,657.3 665.6,661.0 666.1,664.8 666.6,668.5 667.1,672.4 667.6,676.2 668.1,680.1 668.6,684.1 669.1,688.0 669.6,692.1 670.1,696.1 670.6,700.2 671.1,704.4 671.6,708.6 672.1,712.8 672.6,717.1 673.1,721.4 673.6,725.8 674.1,730.1 674.6,734.6 675.1,739.0 675.6,743.5 676.1,748.0 676.6,752.5 677.1,757.1 677.6,761.7 678.1,766.2 678.6,770.8 679.1,775.3 679.6,779.9 680.1,784.4 680.6,788.8 681.1,793.2 681.6,797.6 682.1,801.8 682.6,805.9 683.1,809.9 683.6,813.8 684.1,817.5 684.6,820.9 685.1,824.2 685.6,827.2 686.1,829.9 686.6,832.4 687.1,834.5 687.6,836.3 688.6,838.8 690.1,839.8 691.6,837.3 692.1,835.7 692.6,833.8 693.1,831.6 693.6,829.1 694.1,826.2 694.6,823.2 695.1,819.8 695.6,816.3 696.1,812.6 696.6,808.7 697.1,804.6 697.6,800.5 698.1,796.2 698.6,791.8 699.1,787.4 699.6,782.9 700.1,778.4 700.6,773.9 701.1,769.3 701.6,764.8 702.1,760.2 702.6,755.6 703.1,751.1 703.6,746.6 704.1,742.1 704.6,737.6 705.1,733.1 705.6,728.7 706.1,724.4 706.6,720.0 707.1,715.7 707.6,711.5 708.1,707.2 708.6,703.1 709.1,698.9 709.6,694.8 710.1,690.8 710.6,686.8 711.1,682.8 711.6,678.9 712.1,675.0 712.6,671.1 713.1,667.3 713.6,663.6 714.1,659.8 714.6,656.1 715.1,652.5 715.6,648.9 716.1,645.3 716.6,641.8 717.1,638.3 717.6,634.8 718.1,631.4 718.6,628.0 719.1,624.6 719.6,621.3 720.1,618.0 720.6,614.8 721.1,611.5 721.6,608.3 722.1,605.2 722.6,602.0 723.1,598.9 723.6,595.9 724.1,592.8 724.6,589.8 725.1,586.8 725.6,583.9 726.1,580.9 726.6,578.0 727.1,575.1 727.6,572.3 728.1,569.5 728.6,566.7 729.1,563.9 729.6,561.1 730.1,558.4 730.6,555.7 731.1,553.0 731.6,550.4 732.1,547.7 732.6,545.1 733.1,542.5 733.6,540.0 734.1,537.4 734.6,534.9 735.1,532.4 735.6,529.9 736.1,527.5 736.6,525.0 737.1,522.6 737.6,520.2 738.1,517.8 738.6,515.5 739.1,513.1 739.6,510.8 740.1,508.5 740.6,506.2 741.1,504.0 741.6,501.7 742.1,499.5 742.6,497.3 743.1,495.1 743.6,492.9 744.1,490.7 744.6,488.6 745.1,486.5 745.6,484.4 746.1,482.3 746.6,480.2 747.1,478.1 747.6,476.1 748.1,474.1 748.6,472.0 749.1,470.0 749.6,468.1 750.1,466.1 750.6,464.1 751.1,462.2 751.6,460.3 752.1,458.4 752.6,456.5 753.1,454.6 753.6,452.7 754.1,450.9 754.6,449.0 755.1,447.2 755.6,445.4 756.1,443.6 756.6,441.8 757.1,440.1 757.6,438.3 758.1,436.6 758.6,434.8 759.1,433.1 759.6,431.4 760.1,429.7 760.6,428.0 761.1,426.4 761.6,424.7 762.1,423.1 762.6,421.5 763.1,419.8 763.6,418.2 764.1,416.6 764.6,415.1 765.1,413.5 765.6,411.9 766.0,410.4 766.5,408.9 767.0,407.3 767.5,405.8 768.5,402.8 769.5,399.9 770.5,397.0 771.5,394.1 772.5,391.3 773.5,388.6 774.5,385.8 775.5,383.2 776.5,380.5 777.5,377.9 778.5,375.3 779.5,372.8 780.5,370.3 781.5,367.9 782.5,365.5 783.5,363.1 784.5,360.8 785.5,358.5 786.5,356.2 787.5,354.0 788.5,351.8 789.5,349.7 790.5,347.5 791.5,345.5 792.5,343.4 793.5,341.4 794.5,339.4 795.5,337.5 796.5,335.6 797.5,333.7 798.5,331.8 799.5,330.0 800.5,328.2 801.5,326.5 802.5,324.8 803.5,323.1 804.5,321.4 805.5,319.8 806.5,318.2 807.5,316.6 808.5,315.1 809.5,313.6 811.0,311.4 812.5,309.3 814.0,307.2 815.5,305.2 817.0,303.3 818.5,301.4 820.0,299.6 821.5,297.8 823.0,296.2 824.5,294.5 826.0,293.0 827.5,291.5 829.0,290.0 830.5,288.6 832.0,287.3 833.5,286.1 835.0,284.8 836.5,283.7 838.0,282.6 839.5,281.6 841.0,280.6 842.5,279.7 844.0,278.8 845.5,278.0 847.0,277.3 848.5,276.6 850.0,275.9 851.5,275.4 853.0,274.8 854.5,274.4 856.0,274.0 857.5,273.6 859.0,273.3 860.5,273.0 862.0,272.9 863.5,272.7 865.0,272.6 866.5,272.6 868.0,272.6 869.5,272.7 871.0,272.8 872.5,273.0 874.0,273.3 875.5,273.6 877.0,273.9 878.5,274.3 880.0,274.8 881.5,275.3 883.0,275.9 884.5,276.5 886.0,277.2 887.5,278.0 889.0,278.8 890.5,279.6 892.0,280.5 893.5,281.5 895.0,282.5 896.5,283.6 898.0,284.8 899.5,286.0 901.0,287.2 902.5,288.5 904.0,289.9 905.5,291.3 907.0,292.8 908.5,294.4 910.0,296.0 911.5,297.7 913.0,299.4 914.5,301.3 916.0,303.1 917.5,305.1 919.0,307.1 920.5,309.1 922.0,311.2 923.5,313.4 925.0,315.7 926.0,317.2 927.0,318.8 928.0,320.4 929.0,322.1 930.0,323.7 931.0,325.4 932.0,327.2 933.0,328.9 934.0,330.7 935.0,332.5 936.0,334.4 937.0,336.3 938.0,338.2 939.0,340.2 940.0,342.2 941.0,344.2 942.0,346.2 943.0,348.3 944.0,350.5 945.0,352.6 946.0,354.8 947.0,357.1 948.0,359.3 949.0,361.7 950.0,364.0 951.0,366.4 952.0,368.8 953.0,371.3 954.0,373.8 955.0,376.3 956.0,378.9 957.0,381.5 958.0,384.2 959.0,386.9 960.0,389.6 961.0,392.4 962.0,395.2 963.0,398.1 964.0,401.0 965.0,404.0 966.0,407.0 966.5,408.5 967.0,410.0 967.5,411.6 968.0,413.1 968.5,414.7 969.0,416.3 969.5,417.9 970.0,419.5 970.5,421.1 971.0,422.7 971.5,424.3 972.0,426.0 972.5,427.6 973.0,429.3 973.5,431.0 974.0,432.7 974.5,434.4 975.0,436.1 975.5,437.9 976.0,439.6 976.5,441.4 977.0,443.2 977.5,445.0 978.0,446.8 978.5,448.6 979.0,450.4 979.5,452.3 980.0,454.1 980.5,456.0 981.0,457.9 981.5,459.8 982.0,461.7 982.5,463.7 983.0,465.6 983.5,467.6 984.0,469.6 984.5,471.6 985.0,473.6 985.5,475.6 986.0,477.6 986.5,479.7 987.0,481.8 987.5,483.9 988.0,486.0 988.5,488.1 989.0,490.2 989.5,492.4 990.0,494.6 990.5,496.7 991.0,499.0 991.5,501.2 992.0,503.4 992.5,505.7 993.0,508.0 993.5,510.3 994.0,512.6 994.5,514.9 995.0,517.3 995.5,519.6 996.0,522.0 996.5,524.5 997.0,526.9 997.5,529.3 998.0,531.8 998.5,534.3 999.0,536.8 999.5,539.4 1000.0,541.9 1000.5,544.5 1001.0,547.1 1001.5,549.7 1002.0,552.4 1002.5,555.1 1003.0,557.8 1003.5,560.5 1004.0,563.2 1004.5,566.0 1005.0,568.8 1005.5,571.6 1006.0,574.5 1006.5,577.3 1007.0,580.2 1007.5,583.2 1008.0,586.1 1008.5,589.1 1008.9,592.1 1009.4,595.1 1009.9,598.2 1010.4,601.3 1010.9,604.4 1011.4,607.6 1011.9,610.8 1012.4,614.0 1012.9,617.2 1013.4,620.5 1013.9,623.8 1014.4,627.2 1014.9,630.6 1015.4,634.0 1015.9,637.5 1016.4,640.9 1016.9,644.5 1017.4,648.0 1017.9,651.6 1018.4,655.3 1018.9,658.9 1019.4,662.7 1019.9,666.4 1020.4,670.2 1020.9,674.1 1021.4,677.9 1021.9,681.8 1022.4,685.8 1022.9,689.8 1023.4,693.9 1023.9,697.9 1024.4,702.1 1024.9,706.2 1025.4,710.4 1025.9,714.7 1026.4,719.0 1026.9,723.3 1027.4,727.7 1027.9,732.1 1028.4,736.5 1028.9,741.0 1029.4,745.5 1029.9,750.0 1030.4,754.5 1030.9,759.1 1031.4,763.7 1031.9,768.2 1032.4,772.8 1032.9,777.3 1033.4,781.9 1033.9,786.4 1034.4,790.8 1034.9,795.2 1035.4,799.5 1035.9,803.6 1036.4,807.7 1036.9,811.7 1037.4,815.4 1037.9,819.0 1038.4,822.4 1038.9,825.5 1039.4,828.4 1039.9,831.0 1040.4,833.3 1040.9,835.3 1041.4,837.0 1042.4,839.2 1043.9,839.6 1044.9,838.0 1045.9,834.9 1046.4,832.9 1046.9,830.5 1047.4,827.9 1047.9,824.9 1048.4,821.7 1048.9,818.3 1049.4,814.7 1049.9,810.9 1050.4,806.9 1050.9,802.8 1051.4,798.6 1051.9,794.3 1052.4,789.9 1052.9,785.5 1053.4,781.0 1053.9,776.4 1054.4,771.9 1054.9,767.3 1055.4,762.7 1055.9,758.2 1056.4,753.6 1056.9,749.1 1057.4,744.6 1057.9,740.1 1058.4,735.6 1058.9,731.2 1059.4,726.8 1059.9,722.4 1060.4,718.1 1060.9,713.8 1061.4,709.6 1061.9,705.4 1062.4,701.2 1062.9,697.1 1063.4,693.0 1063.9,689.0 1064.4,685.0 1064.9,681.1 1065.4,677.1 1065.9,673.3 1066.4,669.4 1066.9,665.7 1067.4,661.9 1067.9,658.2 1068.4,654.5 1068.9,650.9 1069.4,647.3 1069.9,643.8 1070.4,640.2 1070.9,636.8 1071.4,633.3 1071.9,629.9 1072.4,626.5 1072.9,623.2 1073.4,619.9 1073.9,616.6 1074.4,613.3 1074.9,610.1 1075.4,606.9 1075.9,603.8 1076.4,600.7 1076.9,597.6 1077.4,594.5 1077.9,591.5 1078.4,588.5 1078.9,585.5 1079.4,582.6 1079.9,579.6 1080.4,576.8 1080.9,573.9 1081.4,571.0 1081.9,568.2 1082.4,565.4 1082.9,562.7 1083.4,559.9 1083.9,557.2 1084.4,554.5 1084.9,551.9 1085.4,549.2 1085.9,546.6 1086.4,544.0 1086.9,541.4 1087.4,538.9 1087.9,536.3 1088.4,533.8 1088.9,531.3 1089.4,528.8 1089.9,526.4 1090.4,524.0 1090.9,521.6 1091.4,519.2 1091.9,516.8 1092.4,514.4 1092.9,512.1 1093.4,509.8 1093.9,507.5 1094.4,505.2 1094.9,503.0 1095.4,500.7 1095.9,498.5 1096.4,496.3 1096.9,494.1 1097.4,491.9 1097.9,489.8 1098.4,487.7 1098.9,485.5 1099.4,483.4 1099.9,481.3 1100.4,479.3 1100.9,477.2 1101.4,475.2 1101.9,473.2 1102.4,471.2 1102.9,469.2 1103.4,467.2 1103.9,465.2 1104.4,463.3 1104.9,461.4 1105.4,459.4 1105.9,457.5 1106.4,455.6 1106.9,453.8 1107.4,451.9 1107.9,450.1 1108.4,448.2 1108.9,446.4 1109.4,444.6 1109.9,442.8 1110.4,441.0 1110.9,439.3 1111.4,437.5 1111.9,435.8 1112.4,434.1 1112.9,432.4 1113.4,430.7 1113.9,429.0 1114.4,427.3 1114.9,425.6 1115.4,424.0 1115.9,422.4 1116.4,420.7 1116.9,419.1 1117.4,417.5 1117.9,415.9 1118.4,414.4 1118.9,412.8 1119.4,411.3 1119.9,409.7 1120.4,408.2 1120.9,406.7 1121.4,405.2 1122.4,402.2 1123.4,399.3 1124.4,396.4 1125.4,393.5 1126.4,390.7 1127.4,388.0 1128.4,385.2 1129.4,382.6 1130.4,379.9 1131.4,377.3 1132.4,374.8 1133.4,372.3 1134.4,369.8 1135.4,367.3 1136.4,364.9 1137.4,362.6 1138.4,360.3 1139.4,358.0 1140.4,355.7 1141.4,353.5 1142.4,351.3 1143.4,349.2 1144.4,347.1 1145.4,345.0 1146.4,343.0 1147.4,341.0 1148.4,339.0 1149.4,337.0 1150.4,335.1 1151.4,333.3 1152.4,331.4 1153.4,329.6 1154.4,327.9 1155.4,326.1 1156.4,324.4 1157.4,322.7 1158.4,321.1 1159.4,319.5 1160.4,317.9 1161.4,316.3 1162.4,314.8 1163.9,312.5 1165.4,310.4 1166.9,308.3 1168.4,306.2 1169.9,304.3 1171.4,302.4 1172.9,300.5 1174.4,298.7 1175.9,297.0 1177.4,295.4 1178.9,293.8 1180.4,292.2 1181.9,290.8 1183.4,289.3 1184.9,288.0 1186.4,286.7 1187.9,285.5 1189.4,284.3 1190.9,283.2 1192.4,282.1 1193.9,281.1 1195.4,280.2 1196.9,279.3 1198.4,278.4 1199.9,277.7 1201.4,276.9 1202.9,276.3 1204.4,275.7 1205.9,275.1 1207.4,274.6 1208.9,274.2 1210.4,273.8 1211.9,273.4 1213.4,273.2 1214.9,272.9 1216.4,272.8 1217.9,272.7 1219.4,272.6 1220.9,272.6 1222.4,272.7 1223.9,272.8 1225.4,272.9 1226.9,273.1 1228.4,273.4 1229.9,273.7 1231.4,274.1 1232.9,274.6 1234.4,275.0 1235.9,275.6 1237.4,276.2 1238.9,276.9 1240.4,277.6 1241.9,278.3 1243.4,279.2 1244.9,280.0 1246.4,281.0 1247.9,282.0 1249.4,283.0 1250.9,284.2 1252.3,285.3 1253.8,286.6 1255.3,287.8 1256.8,289.2 1258.3,290.6 1259.8,292.1 1261.3,293.6 1262.8,295.2 1264.3,296.8 1265.8,298.5 1267.3,300.3 1268.8,302.1 1270.3,304.0 1271.8,306.0 1273.3,308.0 1274.8,310.1 1276.3,312.3 1277.8,314.5 1278.8,316.0 1279.8,317.6 1280.8,319.2 1281.8,320.8 1282.8,322.4 1283.8,324.1 1284.8,325.8 1285.8,327.5 1286.8,329.3 1287.8,331.1 1288.8,332.9 1289.8,334.8 1290.8,336.7 1291.8,338.6 1292.8,340.6 1293.8,342.6 1294.8,344.6 1295.8,346.7 1296.8,348.8 1297.8,350.9 1298.8,353.1 1299.8,355.3 1300.8,357.6 1301.8,359.9 1302.8,362.2 1303.8,364.5 1304.8,366.9 1305.8,369.3 1306.8,371.8 1307.8,374.3 1308.8,376.9 1309.8,379.5 1310.8,382.1 1311.8,384.8 1312.8,387.5 1313.8,390.2 1314.8,393.0 1315.8,395.9 1316.8,398.7 1317.8,401.7 1318.8,404.6 1319.3,406.1 1319.8,407.6 1320.3,409.2 1320.8,410.7 1321.3,412.2 1321.8,413.8 1322.3,415.4 1322.8,417.0 1323.3,418.6 1323.8,420.2 1324.3,421.8 1324.8,423.4 1325.3,425.1 1325.8,426.7 1326.3,428.4 1326.8,430.1 1327.3,431.8 1327.8,433.5 1328.3,435.2 1328.8,436.9 1329.3,438.7 1329.8,440.4 1330.3,442.2 1330.8,444.0 1331.3,445.8 1331.8,447.6 1332.3,449.4 1332.8,451.2 1333.3,453.1 1333.8,455.0 1334.3,456.9 1334.8,458.8 1335.3,460.7 1335.8,462.6 1336.3,464.5 1336.8,466.5 1337.3,468.5 1337.8,470.4 1338.3,472.4 1338.8,474.5 1339.3,476.5 1339.8,478.5 1340.3,480.6 1340.8,482.7 1341.3,484.8 1341.8,486.9 1342.3,489.0 1342.8,491.2 1343.3,493.3 1343.8,495.5 1344.3,497.7 1344.8,499.9 1345.3,502.2 1345.8,504.4 1346.3,506.7 1346.8,509.0 1347.3,511.3 1347.8,513.6 1348.3,516.0 1348.8,518.3 1349.3,520.7 1349.8,523.1 1350.3,525.5 1350.8,528.0 1351.3,530.4 1351.8,532.9 1352.3,535.4 1352.8,537.9 1353.3,540.5 1353.8,543.1 1354.3,545.7 1354.8,548.3 1355.3,550.9 1355.8,553.6 1356.3,556.3 1356.8,559.0 1357.3,561.7 1357.8,564.4 1358.3,567.2 1358.8,570.0 1359.3,572.9 1359.8,575.7 1360.3,578.6 1360.8,581.5 1361.3,584.5 1361.8,587.4 1362.3,590.4 1362.8,593.4 1363.3,596.5 1363.8,599.6 1364.3,602.7 1364.8,605.8 1365.3,609.0 1365.8,612.2 1366.3,615.4 1366.8,618.7 1367.3,622.0 1367.8,625.3 1368.3,628.7 1368.8,632.1 1369.3,635.5 1369.8,639.0 1370.3,642.5 1370.8,646.0 1371.3,649.6 1371.8,653.2 1372.3,656.9 1372.8,660.6" fill="none" stroke="#ed1c24" stroke-width="6.7" stroke-linejoin="round" stroke-linecap="round"/>
<ellipse cx="159.3" cy="272.6" rx="13.5" ry="12.2" fill="#ed1c24"/>
<ellipse cx="199.8" cy="292.9" rx="13.5" ry="12.2" fill="#ed1c24"/>
<ellipse cx="240.2" cy="358.2" rx="13.5" ry="12.2" fill="#ed1c24"/>
<ellipse cx="280.7" cy="485.8" rx="13.5" ry="12.2" fill="#ed1c24"/>
<ellipse cx="321.1" cy="735.9" rx="13.5" ry="12.2" fill="#ed1c24"/>
<ellipse cx="361.6" cy="651.7" rx="13.5" ry="12.2" fill="#ed1c24"/>
<ellipse cx="402.0" cy="445.1" rx="13.5" ry="12.2" fill="#ed1c24"/>
<ellipse cx="442.5" cy="336.4" rx="13.5" ry="12.2" fill="#ed1c24"/>
<ellipse cx="482.9" cy="283.7" rx="13.5" ry="12.2" fill="#ed1c24"/>
<ellipse cx="523.4" cy="273.9" rx="13.5" ry="12.2" fill="#ed1c24"/>
<ellipse cx="563.8" cy="305.0" rx="13.5" ry="12.2" fill="#ed1c24"/>
<ellipse cx="604.2" cy="383.9" rx="13.5" ry="12.2" fill="#ed1c24"/>
<ellipse cx="644.7" cy="533.7" rx="13.5" ry="12.2" fill="#ed1c24"/>
<ellipse cx="685.2" cy="826.9" rx="13.5" ry="12.2" fill="#ed1c24"/>
<ellipse cx="725.6" cy="583.7" rx="13.5" ry="12.2" fill="#ed1c24"/>
<ellipse cx="766.0" cy="410.4" rx="13.5" ry="12.2" fill="#ed1c24"/>
<ellipse cx="806.5" cy="318.3" rx="13.5" ry="12.2" fill="#ed1c24"/>
<ellipse cx="847.0" cy="277.3" rx="13.5" ry="12.2" fill="#ed1c24"/>
<ellipse cx="887.4" cy="277.9" rx="13.5" ry="12.2" fill="#ed1c24"/>
<ellipse cx="927.9" cy="320.2" rx="13.5" ry="12.2" fill="#ed1c24"/>
<ellipse cx="968.3" cy="414.2" rx="13.5" ry="12.2" fill="#ed1c24"/>
<ellipse cx="1008.8" cy="590.9" rx="13.5" ry="12.2" fill="#ed1c24"/>
<ellipse cx="1049.2" cy="816.4" rx="13.5" ry="12.2" fill="#ed1c24"/>
<ellipse cx="1089.7" cy="527.7" rx="13.5" ry="12.2" fill="#ed1c24"/>
<ellipse cx="1130.1" cy="380.7" rx="13.5" ry="12.2" fill="#ed1c24"/>
<ellipse cx="1170.5" cy="303.4" rx="13.5" ry="12.2" fill="#ed1c24"/>
<ellipse cx="1211.0" cy="273.6" rx="13.5" ry="12.2" fill="#ed1c24"/>
<ellipse cx="1251.5" cy="284.6" rx="13.5" ry="12.2" fill="#ed1c24"/>
<ellipse cx="1291.9" cy="338.8" rx="13.5" ry="12.2" fill="#ed1c24"/>
<ellipse cx="1332.4" cy="449.5" rx="13.5" ry="12.2" fill="#ed1c24"/>
<ellipse cx="1372.8" cy="660.6" rx="13.5" ry="12.2" fill="#ed1c24"/>
<path d="M159.3,272.6 160.8,272.7 162.3,273.0 163.8,273.4 165.3,274.0 166.8,274.8 168.3,275.8 169.8,277.0 171.3,278.4 172.8,279.9 174.3,281.6 175.8,283.5 177.3,285.6 178.8,287.9 179.8,289.5 180.8,291.2 181.8,292.9 182.8,294.8 183.8,296.7 184.8,298.7 185.8,300.9 186.8,303.0 187.8,305.3 188.8,307.7 189.8,310.1 190.8,312.6 191.8,315.2 192.8,317.9 193.8,320.7 194.8,323.6 195.8,326.5 196.3,328.0 196.8,329.5 197.3,331.1 197.8,332.6 198.3,334.2 198.8,335.9 199.3,337.5 199.8,339.1 200.3,340.8 200.8,342.5 201.3,344.2 201.8,346.0 202.3,347.8 202.8,349.5 203.3,351.3 203.8,353.2 204.3,355.0 204.8,356.9 205.3,358.8 205.8,360.7 206.3,362.7 206.8,364.6 207.3,366.6 207.8,368.6 208.3,370.7 208.8,372.7 209.3,374.8 209.8,376.9 210.3,379.0 210.8,381.2 211.3,383.3 211.8,385.5 212.3,387.8 212.8,390.0 213.3,392.3 213.8,394.5 214.3,396.8 214.8,399.2 215.3,401.5 215.8,403.9 216.3,406.3 216.8,408.7 217.3,411.2 217.8,413.7 218.3,416.1 218.8,418.7 219.3,421.2 219.8,423.8 220.3,426.4 220.8,429.0 221.3,431.6 221.8,434.3 222.3,437.0 222.8,439.7 223.3,442.4 223.8,445.2 224.3,448.0 224.8,450.8 225.3,453.6 225.8,456.4 226.3,459.3 226.8,462.2 227.3,465.2 227.8,468.1 228.3,471.1 228.8,474.1 229.3,477.1 229.8,480.2 230.3,483.3 230.8,486.4 231.3,489.5 231.8,492.6 232.3,495.8 232.8,499.0 233.3,502.2 233.8,505.5 234.3,508.8 234.8,512.1 235.3,515.4 235.8,518.7 236.3,522.1 236.8,525.5 237.3,528.9 237.8,532.4 238.3,535.9 238.8,539.4 239.3,542.9 239.8,546.4 240.3,550.0 240.8,553.6 241.3,557.2 241.8,560.8 242.3,564.5 242.8,568.2 243.3,571.9 243.8,575.6 244.3,579.4 244.8,583.2 245.3,587.0 245.8,590.8 246.3,594.7 246.8,598.5 247.3,602.4 247.8,606.3 248.3,610.2 248.8,614.2 249.3,618.2 249.8,622.2 250.3,626.2 250.8,630.2 251.3,634.2 251.8,638.3 252.3,642.4 252.8,646.5 253.3,650.6 253.8,654.7 254.3,658.8 254.8,662.9 255.3,667.1 255.8,671.3 256.3,675.4 256.8,679.6 257.3,683.8 257.8,688.0 258.3,692.2 258.8,696.3 259.3,700.5 259.8,704.7 260.3,708.9 260.8,713.0 261.3,717.2 261.8,721.3 262.3,725.5 262.8,729.6 263.3,733.7 263.8,737.7 264.3,741.8 264.8,745.8 265.3,749.7 265.8,753.7 266.3,757.5 266.8,761.4 267.3,765.2 267.8,768.9 268.3,772.5 268.8,776.1 269.3,779.6 269.8,783.1 270.3,786.4 270.8,789.7 271.3,792.8 271.8,795.9 272.3,798.8 272.8,801.6 273.3,804.3 273.8,806.8 274.3,809.2 274.8,811.5 275.3,813.6 275.8,815.5 276.3,817.3 276.8,818.9 277.8,821.6 278.8,823.5 280.3,824.9 281.7,824.4 283.2,822.2 284.2,819.8 285.2,816.6 285.7,814.8 286.2,812.8 286.7,810.6 287.2,808.3 287.7,805.8 288.2,803.2 288.7,800.5 289.2,797.6 289.7,794.6 290.2,791.6 290.7,788.4 291.2,785.1 291.7,781.7 292.2,778.2 292.7,774.7 293.2,771.1 293.7,767.4 294.2,763.6 294.7,759.8 295.2,756.0 295.7,752.1 296.2,748.1 296.7,744.2 297.2,740.2 297.7,736.1 298.2,732.0 298.7,727.9 299.2,723.8 299.7,719.7 300.2,715.5 300.7,711.4 301.2,707.2 301.7,703.0 302.2,698.8 302.7,694.7 303.2,690.5 303.7,686.3 304.2,682.1 304.7,677.9 305.2,673.8 305.7,669.6 306.2,665.4 306.7,661.3 307.2,657.2 307.7,653.0 308.2,648.9 308.7,644.8 309.2,640.7 309.7,636.7 310.2,632.6 310.7,628.6 311.2,624.6 311.7,620.6 312.2,616.6 312.7,612.6 313.2,608.7 313.7,604.8 314.2,600.8 314.7,597.0 315.2,593.1 315.7,589.3 316.2,585.5 316.7,581.7 317.2,577.9 317.7,574.1 318.2,570.4 318.7,566.7 319.2,563.0 319.7,559.4 320.2,555.7 320.7,552.1 321.2,548.6 321.7,545.0 322.2,541.5 322.7,537.9 323.2,534.5 323.7,531.0 324.2,527.6 324.7,524.1 325.2,520.8 325.7,517.4 326.2,514.1 326.7,510.7 327.2,507.5 327.7,504.2 328.2,500.9 328.7,497.7 329.2,494.5 329.7,491.4 330.2,488.2 330.7,485.1 331.2,482.0 331.7,479.0 332.2,475.9 332.7,472.9 333.2,469.9 333.7,466.9 334.2,464.0 334.7,461.1 335.2,458.2 335.7,455.3 336.2,452.5 336.7,449.6 337.2,446.8 337.7,444.1 338.2,441.3 338.7,438.6 339.2,435.9 339.7,433.2 340.2,430.6 340.7,427.9 341.2,425.3 341.7,422.7 342.2,420.2 342.7,417.7 343.2,415.1 343.7,412.7 344.2,410.2 344.7,407.8 345.2,405.3 345.7,403.0 346.2,400.6 346.7,398.2 347.2,395.9 347.7,393.6 348.2,391.3 348.7,389.1 349.2,386.9 349.7,384.7 350.2,382.5 350.7,380.3 351.2,378.2 351.7,376.1 352.2,374.0 352.7,371.9 353.2,369.9 353.7,367.8 354.2,365.8 354.7,363.8 355.2,361.9 355.7,360.0 356.2,358.0 356.7,356.2 357.2,354.3 357.7,352.4 358.2,350.6 358.7,348.8 359.2,347.0 359.7,345.3 360.2,343.5 360.7,341.8 361.2,340.1 361.7,338.5 362.2,336.8 362.7,335.2 363.2,333.6 363.7,332.0 364.2,330.5 364.7,328.9 365.2,327.4 366.2,324.4 367.2,321.5 368.2,318.7 369.2,316.0 370.2,313.4 371.2,310.8 372.2,308.4 373.2,306.0 374.2,303.7 375.2,301.5 376.2,299.4 377.2,297.3 378.2,295.4 379.2,293.5 380.2,291.7 381.2,290.0 382.2,288.3 383.2,286.8 384.7,284.6 386.2,282.6 387.7,280.8 389.2,279.2 390.7,277.7 392.2,276.4 393.7,275.4 395.2,274.4 396.7,273.7 398.2,273.2 399.7,272.8 401.2,272.6 402.7,272.6 404.2,272.8 405.7,273.1 407.2,273.7 408.7,274.4 410.2,275.3 411.7,276.4 413.2,277.6 414.7,279.1 416.2,280.7 417.7,282.5 419.2,284.5 420.7,286.6 421.7,288.2 422.7,289.8 423.7,291.5 424.7,293.3 425.7,295.2 426.7,297.1 427.7,299.2 428.7,301.3 429.7,303.5 430.7,305.8 431.7,308.1 432.7,310.6 433.7,313.1 434.7,315.8 435.7,318.5 436.7,321.3 437.7,324.1 438.7,327.1 439.2,328.6 439.7,330.1 440.2,331.7 440.7,333.3 441.2,334.9 441.7,336.5 442.2,338.1 442.7,339.8 443.2,341.5 443.7,343.2 444.2,344.9 444.7,346.7 445.2,348.5 445.7,350.3 446.2,352.1 446.7,353.9 447.2,355.8 447.7,357.7 448.2,359.6 448.7,361.5 449.2,363.5 449.7,365.4 450.2,367.4 450.7,369.4 451.2,371.5 451.7,373.6 452.2,375.6 452.7,377.7 453.2,379.9 453.7,382.0 454.2,384.2 454.7,386.4 455.2,388.6 455.7,390.9 456.2,393.2 456.7,395.5 457.2,397.8 457.7,400.1 458.2,402.5 458.7,404.9 459.2,407.3 459.7,409.7 460.2,412.2 460.7,414.6 461.2,417.2 461.7,419.7 462.2,422.2 462.7,424.8 463.2,427.4 463.7,430.0 464.2,432.7 464.7,435.4 465.2,438.0 465.7,440.8 466.2,443.5 466.7,446.3 467.2,449.1 467.7,451.9 468.2,454.7 468.7,457.6 469.2,460.5 469.7,463.4 470.2,466.3 470.7,469.3 471.2,472.3 471.7,475.3 472.2,478.3 472.7,481.4 473.2,484.5 473.7,487.6 474.2,490.7 474.7,493.9 475.2,497.1 475.7,500.3 476.2,503.5 476.7,506.8 477.2,510.1 477.7,513.4 478.2,516.7 478.7,520.1 479.2,523.5 479.7,526.9 480.2,530.3 480.7,533.8 481.2,537.3 481.7,540.8 482.2,544.3 482.7,547.8 483.2,551.4 483.7,555.0 484.2,558.7 484.7,562.3 485.2,566.0 485.7,569.7 486.2,573.4 486.7,577.1 487.2,580.9 487.7,584.7 488.2,588.5 488.7,592.3 489.2,596.2 489.7,600.1 490.2,604.0 490.7,607.9 491.2,611.8 491.7,615.8 492.2,619.8 492.7,623.8 493.2,627.8 493.7,631.8 494.2,635.9 494.7,639.9 495.2,644.0 495.7,648.1 496.2,652.2 496.7,656.3 497.2,660.5 497.7,664.6 498.2,668.8 498.7,672.9 499.2,677.1 499.7,681.3 500.2,685.5 500.7,689.6 501.2,693.8 501.7,698.0 502.2,702.2 502.7,706.4 503.2,710.5 503.7,714.7 504.2,718.9 504.7,723.0 505.2,727.1 505.7,731.2 506.2,735.3 506.7,739.3 507.2,743.4 507.7,747.4 508.2,751.3 508.7,755.2 509.2,759.1 509.7,762.9 510.2,766.6 510.7,770.3 511.2,774.0 511.7,777.5 512.2,781.0 512.7,784.4 513.2,787.7 513.7,790.9 514.2,794.0 514.7,797.0 515.2,799.9 515.7,802.7 516.2,805.3 516.7,807.8 517.2,810.1 517.7,812.3 518.2,814.4 518.7,816.3 519.2,818.0 519.7,819.5 520.7,822.0 521.7,823.8 523.2,824.9 524.6,824.2 526.1,821.8 527.1,819.2 527.6,817.6 528.1,815.9 528.6,814.0 529.1,811.9 529.6,809.7 530.1,807.3 530.6,804.8 531.1,802.1 531.6,799.4 532.1,796.4 532.6,793.4 533.1,790.3 533.6,787.1 534.1,783.7 534.6,780.3 535.1,776.8 535.6,773.3 536.1,769.6 536.6,765.9 537.1,762.1 537.6,758.3 538.1,754.4 538.6,750.5 539.1,746.6 539.6,742.6 540.1,738.5 540.6,734.5 541.1,730.4 541.6,726.3 542.1,722.2 542.6,718.0 543.1,713.9 543.6,709.7 544.1,705.5 544.6,701.4 545.1,697.2 545.6,693.0 546.1,688.8 546.6,684.6 547.1,680.4 547.6,676.3 548.1,672.1 548.6,667.9 549.1,663.8 549.6,659.6 550.1,655.5 550.6,651.4 551.1,647.3 551.6,643.2 552.1,639.1 552.6,635.0 553.1,631.0 553.6,627.0 554.1,623.0 554.6,619.0 555.1,615.0 555.6,611.0 556.1,607.1 556.6,603.2 557.1,599.3 557.6,595.4 558.1,591.6 558.6,587.7 559.1,583.9 559.6,580.2 560.1,576.4 560.6,572.6 561.1,568.9 561.6,565.2 562.1,561.6 562.6,557.9 563.1,554.3 563.6,550.7 564.1,547.1 564.6,543.6 565.1,540.1 565.6,536.6 566.1,533.1 566.6,529.6 567.1,526.2 567.6,522.8 568.1,519.4 568.6,516.1 569.1,512.7 569.6,509.4 570.1,506.1 570.6,502.9 571.1,499.7 571.6,496.5 572.1,493.3 572.6,490.1 573.1,487.0 573.6,483.9 574.1,480.8 574.6,477.7 575.1,474.7 575.6,471.7 576.1,468.7 576.6,465.8 577.1,462.8 577.6,459.9 578.1,457.0 578.6,454.2 579.1,451.3 579.6,448.5 580.1,445.7 580.6,443.0 581.1,440.2 581.6,437.5 582.1,434.8 582.6,432.1 583.1,429.5 583.6,426.9 584.1,424.3 584.6,421.7 585.1,419.2 585.6,416.6 586.1,414.1 586.6,411.7 587.1,409.2 587.6,406.8 588.1,404.4 588.6,402.0 589.1,399.6 589.6,397.3 590.1,395.0 590.6,392.7 591.1,390.4 591.6,388.2 592.1,386.0 592.6,383.8 593.1,381.6 593.6,379.5 594.1,377.3 594.6,375.2 595.1,373.1 595.6,371.1 596.1,369.0 596.6,367.0 597.1,365.0 597.6,363.1 598.1,361.1 598.6,359.2 599.1,357.3 599.6,355.4 600.1,353.5 600.6,351.7 601.1,349.9 601.6,348.1 602.1,346.3 602.6,344.6 603.1,342.9 603.6,341.2 604.1,339.5 604.6,337.8 605.1,336.2 605.6,334.6 606.1,333.0 606.6,331.4 607.1,329.8 607.6,328.3 608.1,326.8 609.1,323.8 610.1,321.0 611.1,318.2 612.1,315.5 613.1,312.9 614.1,310.3 615.1,307.9 616.1,305.5 617.1,303.3 618.1,301.1 619.1,299.0 620.1,296.9 621.1,295.0 622.1,293.1 623.1,291.3 624.1,289.6 625.1,288.0 626.1,286.5 627.6,284.3 629.1,282.3 630.6,280.6 632.1,279.0 633.6,277.5 635.1,276.3 636.6,275.2 638.1,274.3 639.6,273.6 641.1,273.1 642.6,272.8 644.1,272.6 645.6,272.6 647.1,272.8 648.6,273.2 650.1,273.8 651.6,274.5 653.1,275.4 654.6,276.5 656.1,277.8 657.6,279.3 659.1,280.9 660.6,282.7 662.1,284.7 663.6,286.9 664.6,288.5 665.6,290.1 666.6,291.9 667.6,293.7 668.6,295.6 669.6,297.5 670.6,299.6 671.6,301.7 672.6,303.9 673.6,306.2 674.6,308.6 675.6,311.1 676.6,313.7 677.6,316.3 678.6,319.0 679.6,321.8 680.6,324.7 681.6,327.7 682.1,329.2 682.6,330.8 683.1,332.3 683.6,333.9 684.1,335.5 684.6,337.2 685.1,338.8 685.6,340.5 686.1,342.2 686.6,343.9 687.1,345.6 687.6,347.4 688.1,349.2 688.6,351.0 689.1,352.8 689.6,354.7 690.1,356.5 690.6,358.4 691.1,360.3 691.6,362.3 692.1,364.2 692.6,366.2 693.1,368.2 693.6,370.3 694.1,372.3 694.6,374.4 695.1,376.5 695.6,378.6 696.1,380.7 696.6,382.9 697.1,385.1 697.6,387.3 698.1,389.5 698.6,391.8 699.1,394.1 699.6,396.4 700.1,398.7 700.6,401.1 701.1,403.4 701.6,405.8 702.1,408.2 702.6,410.7 703.1,413.2 703.6,415.6 704.1,418.2 704.6,420.7 705.1,423.3 705.6,425.8 706.1,428.5 706.6,431.1 707.1,433.7 707.6,436.4 708.1,439.1 708.6,441.9 709.1,444.6 709.6,447.4 710.1,450.2 710.6,453.0 711.1,455.9 711.6,458.8 712.1,461.7 712.6,464.6 713.1,467.5 713.6,470.5 714.1,473.5 714.6,476.5 715.1,479.6 715.6,482.6 716.1,485.7 716.6,488.9 717.1,492.0 717.6,495.2 718.1,498.4 718.6,501.6 719.1,504.8 719.6,508.1 720.1,511.4 720.6,514.7 721.1,518.1 721.6,521.4 722.1,524.8 722.6,528.2 723.1,531.7 723.6,535.2 724.1,538.7 724.6,542.2 725.1,545.7 725.6,549.3 726.1,552.9 726.6,556.5 727.1,560.1 727.6,563.8 728.1,567.5 728.6,571.2 729.1,574.9 729.6,578.6 730.1,582.4 730.6,586.2 731.1,590.0 731.6,593.9 732.1,597.7 732.6,601.6 733.1,605.5 733.6,609.5 734.1,613.4 734.6,617.4 735.1,621.4 735.6,625.4 736.1,629.4 736.6,633.4 737.1,637.5 737.6,641.6 738.1,645.6 738.6,649.7 739.1,653.9 739.6,658.0 740.1,662.1 740.6,666.3 741.1,670.4 741.6,674.6 742.1,678.8 742.6,682.9 743.1,687.1 743.6,691.3 744.1,695.5 744.6,699.7 745.1,703.9 745.6,708.0 746.1,712.2 746.6,716.4 747.1,720.5 747.6,724.6 748.1,728.8 748.6,732.9 749.1,736.9 749.6,741.0 750.1,745.0 750.6,748.9 751.1,752.9 751.6,756.8 752.1,760.6 752.6,764.4 753.1,768.1 753.6,771.8 754.1,775.4 754.6,778.9 755.1,782.4 755.6,785.7 756.1,789.0 756.6,792.2 757.1,795.3 757.6,798.2 758.1,801.0 758.6,803.7 759.1,806.3 759.6,808.8 760.1,811.0 760.6,813.2 761.1,815.2 761.6,817.0 762.1,818.6 763.1,821.3 764.1,823.3 765.6,824.8 767.0,824.5 768.5,822.4 769.5,820.1 770.5,817.0 771.0,815.2 771.5,813.2 772.0,811.0 772.5,808.8 773.0,806.3 773.5,803.7 774.0,801.0 774.5,798.2 775.0,795.3 775.5,792.2 776.0,789.0 776.5,785.7 777.0,782.4 777.5,778.9 778.0,775.4 778.5,771.8 779.0,768.1 779.5,764.4 780.0,760.6 780.5,756.8 781.0,752.9 781.5,748.9 782.0,745.0 782.5,741.0 783.0,736.9 783.5,732.9 784.0,728.8 784.5,724.6 785.0,720.5 785.5,716.4 786.0,712.2 786.5,708.0 787.0,703.9 787.5,699.7 788.0,695.5 788.5,691.3 789.0,687.1 789.5,682.9 790.0,678.8 790.5,674.6 791.0,670.4 791.5,666.3 792.0,662.1 792.5,658.0 793.0,653.9 793.5,649.7 794.0,645.6 794.5,641.6 795.0,637.5 795.5,633.4 796.0,629.4 796.5,625.4 797.0,621.4 797.5,617.4 798.0,613.4 798.5,609.5 799.0,605.5 799.5,601.6 800.0,597.7 800.5,593.9 801.0,590.0 801.5,586.2 802.0,582.4 802.5,578.6 803.0,574.9 803.5,571.2 804.0,567.5 804.5,563.8 805.0,560.1 805.5,556.5 806.0,552.9 806.5,549.3 807.0,545.7 807.5,542.2 808.0,538.7 808.5,535.2 809.0,531.7 809.5,528.2 810.0,524.8 810.5,521.4 811.0,518.1 811.5,514.7 812.0,511.4 812.5,508.1 813.0,504.8 813.5,501.6 814.0,498.4 814.5,495.2 815.0,492.0 815.5,488.9 816.0,485.7 816.5,482.6 817.0,479.6 817.5,476.5 818.0,473.5 818.5,470.5 819.0,467.5 819.5,464.6 820.0,461.7 820.5,458.8 821.0,455.9 821.5,453.0 822.0,450.2 822.5,447.4 823.0,444.6 823.5,441.9 824.0,439.1 824.5,436.4 825.0,433.7 825.5,431.1 826.0,428.5 826.5,425.8 827.0,423.3 827.5,420.7 828.0,418.2 828.5,415.6 829.0,413.2 829.5,410.7 830.0,408.2 830.5,405.8 831.0,403.4 831.5,401.1 832.0,398.7 832.5,396.4 833.0,394.1 833.5,391.8 834.0,389.5 834.5,387.3 835.0,385.1 835.5,382.9 836.0,380.7 836.5,378.6 837.0,376.5 837.5,374.4 838.0,372.3 838.5,370.3 839.0,368.2 839.5,366.2 840.0,364.2 840.5,362.3 841.0,360.3 841.5,358.4 842.0,356.5 842.5,354.7 843.0,352.8 843.5,351.0 844.0,349.2 844.5,347.4 845.0,345.6 845.5,343.9 846.0,342.2 846.5,340.5 847.0,338.8 847.5,337.2 848.0,335.5 848.5,333.9 849.0,332.3 849.5,330.8 850.0,329.2 850.5,327.7 851.0,326.2 852.0,323.3 853.0,320.4 854.0,317.6 855.0,315.0 856.0,312.4 857.0,309.9 858.0,307.4 859.0,305.1 860.0,302.8 861.0,300.6 862.0,298.5 863.0,296.5 864.0,294.6 865.0,292.7 866.0,291.0 867.0,289.3 868.0,287.7 869.0,286.2 870.5,284.0 872.0,282.1 873.5,280.3 875.0,278.8 876.5,277.4 878.0,276.1 879.5,275.1 881.0,274.2 882.5,273.6 884.0,273.1 885.5,272.7 887.0,272.6 888.5,272.6 890.0,272.9 891.5,273.3 893.0,273.9 894.5,274.6 896.0,275.6 897.5,276.7 899.0,278.0 900.5,279.5 902.0,281.1 903.5,283.0 905.0,285.0 906.5,287.2 907.5,288.8 908.5,290.5 909.5,292.2 910.5,294.0 911.5,295.9 912.5,297.9 913.5,300.0 914.5,302.2 915.5,304.4 916.5,306.7 917.5,309.1 918.5,311.6 919.5,314.2 920.5,316.8 921.5,319.6 922.5,322.4 923.5,325.3 924.5,328.3 925.0,329.8 925.5,331.4 926.0,333.0 926.5,334.6 927.0,336.2 927.5,337.8 928.0,339.5 928.5,341.2 929.0,342.9 929.5,344.6 930.0,346.3 930.5,348.1 931.0,349.9 931.5,351.7 932.0,353.5 932.5,355.4 933.0,357.3 933.5,359.2 934.0,361.1 934.5,363.1 935.0,365.0 935.5,367.0 936.0,369.0 936.5,371.1 937.0,373.1 937.5,375.2 938.0,377.3 938.5,379.5 939.0,381.6 939.5,383.8 940.0,386.0 940.5,388.2 941.0,390.4 941.5,392.7 942.0,395.0 942.5,397.3 943.0,399.6 943.5,402.0 944.0,404.4 944.5,406.8 945.0,409.2 945.5,411.7 946.0,414.1 946.5,416.6 947.0,419.2 947.5,421.7 948.0,424.3 948.5,426.9 949.0,429.5 949.5,432.1 950.0,434.8 950.5,437.5 951.0,440.2 951.5,443.0 952.0,445.7 952.5,448.5 953.0,451.3 953.5,454.2 954.0,457.0 954.5,459.9 955.0,462.8 955.5,465.8 956.0,468.7 956.5,471.7 957.0,474.7 957.5,477.7 958.0,480.8 958.5,483.9 959.0,487.0 959.5,490.1 960.0,493.3 960.5,496.5 961.0,499.7 961.5,502.9 962.0,506.1 962.5,509.4 963.0,512.7 963.5,516.1 964.0,519.4 964.5,522.8 965.0,526.2 965.5,529.6 966.0,533.1 966.5,536.6 967.0,540.1 967.5,543.6 968.0,547.1 968.5,550.7 969.0,554.3 969.5,557.9 970.0,561.6 970.5,565.2 971.0,568.9 971.5,572.6 972.0,576.4 972.5,580.2 973.0,583.9 973.5,587.7 974.0,591.6 974.5,595.4 975.0,599.3 975.5,603.2 976.0,607.1 976.5,611.0 977.0,615.0 977.5,619.0 978.0,623.0 978.5,627.0 979.0,631.0 979.5,635.0 980.0,639.1 980.5,643.2 981.0,647.3 981.5,651.4 982.0,655.5 982.5,659.6 983.0,663.8 983.5,667.9 984.0,672.1 984.5,676.3 985.0,680.4 985.5,684.6 986.0,688.8 986.5,693.0 987.0,697.2 987.5,701.4 988.0,705.5 988.5,709.7 989.0,713.9 989.5,718.0 990.0,722.2 990.5,726.3 991.0,730.4 991.5,734.5 992.0,738.5 992.5,742.6 993.0,746.6 993.5,750.5 994.0,754.4 994.5,758.3 995.0,762.1 995.5,765.9 996.0,769.6 996.5,773.3 997.0,776.8 997.5,780.3 998.0,783.7 998.5,787.1 999.0,790.3 999.5,793.4 1000.0,796.4 1000.5,799.4 1001.0,802.1 1001.5,804.8 1002.0,807.3 1002.5,809.7 1003.0,811.9 1003.5,814.0 1004.0,815.9 1004.5,817.6 1005.0,819.2 1006.0,821.8 1007.0,823.6 1008.5,824.9 1009.9,824.3 1011.4,822.0 1012.4,819.5 1012.9,818.0 1013.4,816.3 1013.9,814.4 1014.4,812.3 1014.9,810.1 1015.4,807.8 1015.9,805.3 1016.4,802.7 1016.9,799.9 1017.4,797.0 1017.9,794.0 1018.4,790.9 1018.9,787.7 1019.4,784.4 1019.9,781.0 1020.4,777.5 1020.9,774.0 1021.4,770.3 1021.9,766.6 1022.4,762.9 1022.9,759.1 1023.4,755.2 1023.9,751.3 1024.4,747.4 1024.9,743.4 1025.4,739.3 1025.9,735.3 1026.4,731.2 1026.9,727.1 1027.4,723.0 1027.9,718.9 1028.4,714.7 1028.9,710.5 1029.4,706.4 1029.9,702.2 1030.4,698.0 1030.9,693.8 1031.4,689.6 1031.9,685.5 1032.4,681.3 1032.9,677.1 1033.4,672.9 1033.9,668.8 1034.4,664.6 1034.9,660.5 1035.4,656.3 1035.9,652.2 1036.4,648.1 1036.9,644.0 1037.4,639.9 1037.9,635.9 1038.4,631.8 1038.9,627.8 1039.4,623.8 1039.9,619.8 1040.4,615.8 1040.9,611.8 1041.4,607.9 1041.9,604.0 1042.4,600.1 1042.9,596.2 1043.4,592.3 1043.9,588.5 1044.4,584.7 1044.9,580.9 1045.4,577.1 1045.9,573.4 1046.4,569.7 1046.9,566.0 1047.4,562.3 1047.9,558.7 1048.4,555.0 1048.9,551.4 1049.4,547.8 1049.9,544.3 1050.4,540.8 1050.9,537.3 1051.4,533.8 1051.9,530.3 1052.4,526.9 1052.9,523.5 1053.4,520.1 1053.9,516.7 1054.4,513.4 1054.9,510.1 1055.4,506.8 1055.9,503.5 1056.4,500.3 1056.9,497.1 1057.4,493.9 1057.9,490.7 1058.4,487.6 1058.9,484.5 1059.4,481.4 1059.9,478.3 1060.4,475.3 1060.9,472.3 1061.4,469.3 1061.9,466.3 1062.4,463.4 1062.9,460.5 1063.4,457.6 1063.9,454.7 1064.4,451.9 1064.9,449.1 1065.4,446.3 1065.9,443.5 1066.4,440.8 1066.9,438.0 1067.4,435.4 1067.9,432.7 1068.4,430.0 1068.9,427.4 1069.4,424.8 1069.9,422.2 1070.4,419.7 1070.9,417.2 1071.4,414.6 1071.9,412.2 1072.4,409.7 1072.9,407.3 1073.4,404.9 1073.9,402.5 1074.4,400.1 1074.9,397.8 1075.4,395.5 1075.9,393.2 1076.4,390.9 1076.9,388.6 1077.4,386.4 1077.9,384.2 1078.4,382.0 1078.9,379.9 1079.4,377.7 1079.9,375.6 1080.4,373.6 1080.9,371.5 1081.4,369.4 1081.9,367.4 1082.4,365.4 1082.9,363.5 1083.4,361.5 1083.9,359.6 1084.4,357.7 1084.9,355.8 1085.4,353.9 1085.9,352.1 1086.4,350.3 1086.9,348.5 1087.4,346.7 1087.9,344.9 1088.4,343.2 1088.9,341.5 1089.4,339.8 1089.9,338.1 1090.4,336.5 1090.9,334.9 1091.4,333.3 1091.9,331.7 1092.4,330.1 1092.9,328.6 1093.4,327.1 1094.4,324.1 1095.4,321.3 1096.4,318.5 1097.4,315.8 1098.4,313.1 1099.4,310.6 1100.4,308.1 1101.4,305.8 1102.4,303.5 1103.4,301.3 1104.4,299.2 1105.4,297.1 1106.4,295.2 1107.4,293.3 1108.4,291.5 1109.4,289.8 1110.4,288.2 1111.4,286.6 1112.9,284.5 1114.4,282.5 1115.9,280.7 1117.4,279.1 1118.9,277.6 1120.4,276.4 1121.9,275.3 1123.4,274.4 1124.9,273.7 1126.4,273.1 1127.9,272.8 1129.4,272.6 1130.9,272.6 1132.4,272.8 1133.9,273.2 1135.4,273.7 1136.9,274.4 1138.4,275.4 1139.9,276.4 1141.4,277.7 1142.9,279.2 1144.4,280.8 1145.9,282.6 1147.4,284.6 1148.9,286.8 1149.9,288.3 1150.9,290.0 1151.9,291.7 1152.9,293.5 1153.9,295.4 1154.9,297.3 1155.9,299.4 1156.9,301.5 1157.9,303.7 1158.9,306.0 1159.9,308.4 1160.9,310.8 1161.9,313.4 1162.9,316.0 1163.9,318.7 1164.9,321.5 1165.9,324.4 1166.9,327.4 1167.4,328.9 1167.9,330.5 1168.4,332.0 1168.9,333.6 1169.4,335.2 1169.9,336.8 1170.4,338.5 1170.9,340.1 1171.4,341.8 1171.9,343.5 1172.4,345.3 1172.9,347.0 1173.4,348.8 1173.9,350.6 1174.4,352.4 1174.9,354.3 1175.4,356.2 1175.9,358.0 1176.4,360.0 1176.9,361.9 1177.4,363.8 1177.9,365.8 1178.4,367.8 1178.9,369.9 1179.4,371.9 1179.9,374.0 1180.4,376.1 1180.9,378.2 1181.4,380.3 1181.9,382.5 1182.4,384.7 1182.9,386.9 1183.4,389.1 1183.9,391.3 1184.4,393.6 1184.9,395.9 1185.4,398.2 1185.9,400.6 1186.4,403.0 1186.9,405.3 1187.4,407.8 1187.9,410.2 1188.4,412.7 1188.9,415.1 1189.4,417.7 1189.9,420.2 1190.4,422.7 1190.9,425.3 1191.4,427.9 1191.9,430.6 1192.4,433.2 1192.9,435.9 1193.4,438.6 1193.9,441.3 1194.4,444.1 1194.9,446.8 1195.4,449.6 1195.9,452.5 1196.4,455.3 1196.9,458.2 1197.4,461.1 1197.9,464.0 1198.4,466.9 1198.9,469.9 1199.4,472.9 1199.9,475.9 1200.4,479.0 1200.9,482.0 1201.4,485.1 1201.9,488.2 1202.4,491.4 1202.9,494.5 1203.4,497.7 1203.9,500.9 1204.4,504.2 1204.9,507.5 1205.4,510.7 1205.9,514.1 1206.4,517.4 1206.9,520.8 1207.4,524.1 1207.9,527.6 1208.4,531.0 1208.9,534.5 1209.4,537.9 1209.9,541.5 1210.4,545.0 1210.9,548.6 1211.4,552.1 1211.9,555.7 1212.4,559.4 1212.9,563.0 1213.4,566.7 1213.9,570.4 1214.4,574.1 1214.9,577.9 1215.4,581.7 1215.9,585.5 1216.4,589.3 1216.9,593.1 1217.4,597.0 1217.9,600.8 1218.4,604.8 1218.9,608.7 1219.4,612.6 1219.9,616.6 1220.4,620.6 1220.9,624.6 1221.4,628.6 1221.9,632.6 1222.4,636.7 1222.9,640.7 1223.4,644.8 1223.9,648.9 1224.4,653.0 1224.9,657.2 1225.4,661.3 1225.9,665.4 1226.4,669.6 1226.9,673.8 1227.4,677.9 1227.9,682.1 1228.4,686.3 1228.9,690.5 1229.4,694.7 1229.9,698.8 1230.4,703.0 1230.9,707.2 1231.4,711.4 1231.9,715.5 1232.4,719.7 1232.9,723.8 1233.4,727.9 1233.9,732.0 1234.4,736.1 1234.9,740.2 1235.4,744.2 1235.9,748.1 1236.4,752.1 1236.9,756.0 1237.4,759.8 1237.9,763.6 1238.4,767.4 1238.9,771.1 1239.4,774.7 1239.9,778.2 1240.4,781.7 1240.9,785.1 1241.4,788.4 1241.9,791.6 1242.4,794.6 1242.9,797.6 1243.4,800.5 1243.9,803.2 1244.4,805.8 1244.9,808.3 1245.4,810.6 1245.9,812.8 1246.4,814.8 1246.9,816.6 1247.4,818.3 1248.4,821.1 1249.4,823.1 1250.9,824.8 1252.3,824.6 1253.8,822.6 1254.8,820.3 1255.8,817.3 1256.3,815.5 1256.8,813.6 1257.3,811.5 1257.8,809.2 1258.3,806.8 1258.8,804.3 1259.3,801.6 1259.8,798.8 1260.3,795.9 1260.8,792.8 1261.3,789.7 1261.8,786.4 1262.3,783.1 1262.8,779.6 1263.3,776.1 1263.8,772.5 1264.3,768.9 1264.8,765.2 1265.3,761.4 1265.8,757.5 1266.3,753.7 1266.8,749.7 1267.3,745.8 1267.8,741.8 1268.3,737.7 1268.8,733.7 1269.3,729.6 1269.8,725.5 1270.3,721.3 1270.8,717.2 1271.3,713.0 1271.8,708.9 1272.3,704.7 1272.8,700.5 1273.3,696.3 1273.8,692.2 1274.3,688.0 1274.8,683.8 1275.3,679.6 1275.8,675.4 1276.3,671.3 1276.8,667.1 1277.3,662.9 1277.8,658.8 1278.3,654.7 1278.8,650.6 1279.3,646.5 1279.8,642.4 1280.3,638.3 1280.8,634.2 1281.3,630.2 1281.8,626.2 1282.3,622.2 1282.8,618.2 1283.3,614.2 1283.8,610.2 1284.3,606.3 1284.8,602.4 1285.3,598.5 1285.8,594.7 1286.3,590.8 1286.8,587.0 1287.3,583.2 1287.8,579.4 1288.3,575.6 1288.8,571.9 1289.3,568.2 1289.8,564.5 1290.3,560.8 1290.8,557.2 1291.3,553.6 1291.8,550.0 1292.3,546.4 1292.8,542.9 1293.3,539.4 1293.8,535.9 1294.3,532.4 1294.8,528.9 1295.3,525.5 1295.8,522.1 1296.3,518.7 1296.8,515.4 1297.3,512.1 1297.8,508.8 1298.3,505.5 1298.8,502.2 1299.3,499.0 1299.8,495.8 1300.3,492.6 1300.8,489.5 1301.3,486.4 1301.8,483.3 1302.3,480.2 1302.8,477.1 1303.3,474.1 1303.8,471.1 1304.3,468.1 1304.8,465.2 1305.3,462.2 1305.8,459.3 1306.3,456.4 1306.8,453.6 1307.3,450.8 1307.8,448.0 1308.3,445.2 1308.8,442.4 1309.3,439.7 1309.8,437.0 1310.3,434.3 1310.8,431.6 1311.3,429.0 1311.8,426.4 1312.3,423.8 1312.8,421.2 1313.3,418.7 1313.8,416.1 1314.3,413.7 1314.8,411.2 1315.3,408.7 1315.8,406.3 1316.3,403.9 1316.8,401.5 1317.3,399.2 1317.8,396.8 1318.3,394.5 1318.8,392.3 1319.3,390.0 1319.8,387.8 1320.3,385.5 1320.8,383.3 1321.3,381.2 1321.8,379.0 1322.3,376.9 1322.8,374.8 1323.3,372.7 1323.8,370.7 1324.3,368.6 1324.8,366.6 1325.3,364.6 1325.8,362.7 1326.3,360.7 1326.8,358.8 1327.3,356.9 1327.8,355.0 1328.3,353.2 1328.8,351.3 1329.3,349.5 1329.8,347.8 1330.3,346.0 1330.8,344.2 1331.3,342.5 1331.8,340.8 1332.3,339.1 1332.8,337.5 1333.3,335.9 1333.8,334.2 1334.3,332.6 1334.8,331.1 1335.3,329.5 1335.8,328.0 1336.3,326.5 1337.3,323.6 1338.3,320.7 1339.3,317.9 1340.3,315.2 1341.3,312.6 1342.3,310.1 1343.3,307.7 1344.3,305.3 1345.3,303.0 1346.3,300.9 1347.3,298.7 1348.3,296.7 1349.3,294.8 1350.3,292.9 1351.3,291.2 1352.3,289.5 1353.3,287.9 1354.3,286.3 1355.8,284.2 1357.3,282.2 1358.8,280.4 1360.3,278.9 1361.8,277.4 1363.3,276.2 1364.8,275.2 1366.3,274.3 1367.8,273.6 1369.3,273.1 1370.8,272.8 1372.3,272.6 1372.8,272.6" fill="none" stroke="#3a54a5" stroke-width="6.7" stroke-linejoin="round" stroke-linecap="round"/>
<path d="M159.3,255.7L175.3,281.0L143.3,281.0Z" fill="#3a54a5"/>
<path d="M199.8,322.2L215.8,347.5L183.8,347.5Z" fill="#3a54a5"/>
<path d="M240.2,532.6L256.2,557.9L224.2,557.9Z" fill="#3a54a5"/>
<path d="M280.7,808.0L296.7,833.3L264.7,833.3Z" fill="#3a54a5"/>
<path d="M321.1,532.6L337.1,557.9L305.1,557.9Z" fill="#3a54a5"/>
<path d="M361.6,322.2L377.6,347.5L345.6,347.5Z" fill="#3a54a5"/>
<path d="M402.0,255.7L418.0,281.0L386.0,281.0Z" fill="#3a54a5"/>
<path d="M442.5,322.2L458.5,347.5L426.5,347.5Z" fill="#3a54a5"/>
<path d="M482.9,532.6L498.9,557.9L466.9,557.9Z" fill="#3a54a5"/>
<path d="M523.4,808.0L539.4,833.3L507.4,833.3Z" fill="#3a54a5"/>
<path d="M563.8,532.6L579.8,557.9L547.8,557.9Z" fill="#3a54a5"/>
<path d="M604.2,322.2L620.2,347.5L588.2,347.5Z" fill="#3a54a5"/>
<path d="M644.7,255.7L660.7,281.0L628.7,281.0Z" fill="#3a54a5"/>
<path d="M685.2,322.2L701.2,347.5L669.2,347.5Z" fill="#3a54a5"/>
<path d="M725.6,532.6L741.6,557.9L709.6,557.9Z" fill="#3a54a5"/>
<path d="M766.0,808.0L782.0,833.3L750.0,833.3Z" fill="#3a54a5"/>
<path d="M806.5,532.6L822.5,557.9L790.5,557.9Z" fill="#3a54a5"/>
<path d="M847.0,322.2L863.0,347.5L831.0,347.5Z" fill="#3a54a5"/>
<path d="M887.4,255.7L903.4,281.0L871.4,281.0Z" fill="#3a54a5"/>
<path d="M927.9,322.2L943.9,347.5L911.9,347.5Z" fill="#3a54a5"/>
<path d="M968.3,532.6L984.3,557.9L952.3,557.9Z" fill="#3a54a5"/>
<path d="M1008.8,808.0L1024.8,833.3L992.8,833.3Z" fill="#3a54a5"/>
<path d="M1049.2,532.6L1065.2,557.9L1033.2,557.9Z" fill="#3a54a5"/>
<path d="M1089.7,322.2L1105.7,347.5L1073.7,347.5Z" fill="#3a54a5"/>
<path d="M1130.1,255.7L1146.1,281.0L1114.1,281.0Z" fill="#3a54a5"/>
<path d="M1170.5,322.2L1186.5,347.5L1154.5,347.5Z" fill="#3a54a5"/>
<path d="M1211.0,532.6L1227.0,557.9L1195.0,557.9Z" fill="#3a54a5"/>
<path d="M1251.5,808.0L1267.5,833.3L1235.5,833.3Z" fill="#3a54a5"/>
<path d="M1291.9,532.6L1307.9,557.9L1275.9,557.9Z" fill="#3a54a5"/>
<path d="M1332.4,322.2L1348.4,347.5L1316.4,347.5Z" fill="#3a54a5"/>
<path d="M1372.8,255.7L1388.8,281.0L1356.8,281.0Z" fill="#3a54a5"/>
<path d="M159.3,272.6 160.8,272.7 162.3,272.8 163.8,273.1 165.3,273.4 166.8,273.9 168.3,274.4 169.8,275.1 171.3,275.9 172.8,276.7 174.3,277.7 175.8,278.8 177.3,279.9 178.8,281.2 180.3,282.6 181.8,284.1 183.3,285.7 184.8,287.4 186.3,289.2 187.8,291.2 189.3,293.2 190.8,295.3 192.3,297.6 193.3,299.2 194.3,300.8 195.3,302.4 196.3,304.2 197.3,305.9 198.3,307.7 199.3,309.6 200.3,311.5 201.3,313.5 202.3,315.6 203.3,317.6 204.3,319.8 205.3,322.0 206.3,324.2 207.3,326.5 208.3,328.9 209.3,331.3 210.3,333.8 211.3,336.3 212.3,338.9 213.3,341.6 214.3,344.3 215.3,347.1 216.3,349.9 217.3,352.8 218.3,355.7 218.8,357.2 219.3,358.8 219.8,360.3 220.3,361.8 220.8,363.4 221.3,365.0 221.8,366.6 222.3,368.2 222.8,369.8 223.3,371.5 223.8,373.2 224.3,374.8 224.8,376.5 225.3,378.3 225.8,380.0 226.3,381.7 226.8,383.5 227.3,385.3 227.8,387.1 228.3,388.9 228.8,390.8 229.3,392.6 229.8,394.5 230.3,396.4 230.8,398.3 231.3,400.2 231.8,402.2 232.3,404.2 232.8,406.2 233.3,408.2 233.8,410.2 234.3,412.2 234.8,414.3 235.3,416.4 235.8,418.5 236.3,420.6 236.8,422.8 237.3,425.0 237.8,427.1 238.3,429.4 238.8,431.6 239.3,433.8 239.8,436.1 240.3,438.4 240.8,440.7 241.3,443.1 241.8,445.4 242.3,447.8 242.8,450.2 243.3,452.6 243.8,455.1 244.3,457.6 244.8,460.1 245.3,462.6 245.8,465.1 246.3,467.7 246.8,470.3 247.3,472.9 247.8,475.6 248.3,478.2 248.8,480.9 249.3,483.6 249.8,486.4 250.3,489.2 250.8,492.0 251.3,494.8 251.8,497.6 252.3,500.5 252.8,503.4 253.3,506.3 253.8,509.3 254.3,512.3 254.8,515.3 255.3,518.3 255.8,521.4 256.3,524.5 256.8,527.7 257.3,530.8 257.8,534.0 258.3,537.2 258.8,540.5 259.3,543.8 259.8,547.1 260.3,550.4 260.8,553.8 261.3,557.2 261.8,560.6 262.3,564.1 262.8,567.6 263.3,571.1 263.8,574.7 264.3,578.3 264.8,582.0 265.3,585.6 265.8,589.3 266.3,593.1 266.8,596.9 267.3,600.7 267.8,604.5 268.3,608.4 268.8,612.3 269.3,616.3 269.8,620.3 270.3,624.3 270.8,628.3 271.3,632.4 271.8,636.6 272.3,640.7 272.8,644.9 273.3,649.2 273.8,653.5 274.3,657.8 274.8,662.1 275.3,666.5 275.8,670.9 276.3,675.3 276.8,679.8 277.3,684.3 277.8,688.9 278.3,693.4 278.8,698.0 279.3,702.6 279.8,707.3 280.3,711.9 280.7,716.6 281.2,721.3 281.7,726.0 282.2,730.7 282.7,735.5 283.2,740.2 283.7,744.9 284.2,749.7 284.7,754.4 285.2,759.1 285.7,763.8 286.2,768.4 286.7,773.0 287.2,777.5 287.7,782.0 288.2,786.4 288.7,790.8 289.2,795.0 289.7,799.1 290.2,803.1 290.7,807.0 291.2,810.7 291.7,814.3 292.2,817.6 292.7,820.8 293.2,823.7 293.7,826.4 294.2,828.8 294.7,831.0 295.2,832.8 295.7,834.4 296.7,836.5 298.2,837.2 299.7,834.8 300.7,831.6 301.2,829.6 301.7,827.3 302.2,824.7 302.7,821.8 303.2,818.7 303.7,815.5 304.2,812.0 304.7,808.3 305.2,804.5 305.7,800.5 306.2,796.4 306.7,792.2 307.2,787.9 307.7,783.6 308.2,779.1 308.7,774.6 309.2,770.0 309.7,765.4 310.2,760.7 310.7,756.0 311.2,751.3 311.7,746.6 312.2,741.8 312.7,737.1 313.2,732.4 313.7,727.7 314.2,722.9 314.7,718.2 315.2,713.5 315.7,708.9 316.2,704.2 316.7,699.6 317.2,695.0 317.7,690.4 318.2,685.9 318.7,681.4 319.2,676.9 319.7,672.4 320.2,668.0 320.7,663.6 321.2,659.3 321.7,654.9 322.2,650.7 322.7,646.4 323.2,642.2 323.7,638.0 324.2,633.9 324.7,629.8 325.2,625.7 325.7,621.6 326.2,617.6 326.7,613.7 327.2,609.7 327.7,605.9 328.2,602.0 328.7,598.2 329.2,594.4 329.7,590.6 330.2,586.9 330.7,583.2 331.2,579.6 331.7,576.0 332.2,572.4 332.7,568.8 333.2,565.3 333.7,561.8 334.2,558.4 334.7,555.0 335.2,551.6 335.7,548.2 336.2,544.9 336.7,541.6 337.2,538.3 337.7,535.1 338.2,531.9 338.7,528.7 339.2,525.6 339.7,522.5 340.2,519.4 340.7,516.3 341.2,513.3 341.7,510.3 342.2,507.4 342.7,504.4 343.2,501.5 343.7,498.6 344.2,495.8 344.7,492.9 345.2,490.1 345.7,487.3 346.2,484.6 346.7,481.9 347.2,479.2 347.7,476.5 348.2,473.8 348.7,471.2 349.2,468.6 349.7,466.0 350.2,463.5 350.7,460.9 351.2,458.4 351.7,455.9 352.2,453.5 352.7,451.0 353.2,448.6 353.7,446.2 354.2,443.9 354.7,441.5 355.2,439.2 355.7,436.9 356.2,434.6 356.7,432.4 357.2,430.1 357.7,427.9 358.2,425.7 358.7,423.5 359.2,421.4 359.7,419.2 360.2,417.1 360.7,415.0 361.2,413.0 361.7,410.9 362.2,408.9 362.7,406.8 363.2,404.9 363.7,402.9 364.2,400.9 364.7,399.0 365.2,397.1 365.7,395.2 366.2,393.3 366.7,391.4 367.2,389.6 367.7,387.7 368.2,385.9 368.7,384.1 369.2,382.4 369.7,380.6 370.2,378.9 370.7,377.1 371.2,375.4 371.7,373.7 372.2,372.1 372.7,370.4 373.2,368.8 373.7,367.1 374.2,365.5 374.7,364.0 375.2,362.4 375.7,360.8 376.2,359.3 376.7,357.8 377.2,356.3 378.2,353.3 379.2,350.4 380.2,347.5 381.2,344.8 382.2,342.0 383.2,339.4 384.2,336.8 385.2,334.2 386.2,331.7 387.2,329.3 388.2,326.9 389.2,324.6 390.2,322.4 391.2,320.2 392.2,318.0 393.2,315.9 394.2,313.9 395.2,311.9 396.2,309.9 397.2,308.1 398.2,306.2 399.2,304.5 400.2,302.7 401.2,301.1 402.2,299.4 403.2,297.9 404.2,296.3 405.7,294.1 407.2,292.1 408.7,290.1 410.2,288.2 411.7,286.5 413.2,284.8 414.7,283.3 416.2,281.8 417.7,280.5 419.2,279.3 420.7,278.2 422.2,277.1 423.7,276.2 425.2,275.4 426.7,274.7 428.2,274.1 429.7,273.6 431.2,273.2 432.7,272.9 434.2,272.7 435.7,272.6 437.2,272.6 438.7,272.7 440.2,272.9 441.7,273.2 443.2,273.7 444.7,274.2 446.2,274.8 447.7,275.5 449.2,276.3 450.7,277.2 452.2,278.3 453.7,279.4 455.2,280.6 456.7,282.0 458.2,283.4 459.7,285.0 461.2,286.6 462.7,288.4 464.2,290.3 465.7,292.3 467.2,294.4 468.7,296.6 469.7,298.1 470.7,299.7 471.7,301.3 472.7,303.0 473.7,304.7 474.7,306.5 475.7,308.4 476.7,310.2 477.7,312.2 478.7,314.2 479.7,316.2 480.7,318.3 481.7,320.5 482.7,322.7 483.7,325.0 484.7,327.3 485.7,329.7 486.7,332.1 487.7,334.6 488.7,337.2 489.7,339.8 490.7,342.5 491.7,345.2 492.7,348.0 493.7,350.8 494.7,353.7 495.7,356.7 496.2,358.2 496.7,359.8 497.2,361.3 497.7,362.9 498.2,364.4 498.7,366.0 499.2,367.6 499.7,369.3 500.2,370.9 500.7,372.6 501.2,374.3 501.7,376.0 502.2,377.7 502.7,379.4 503.2,381.1 503.7,382.9 504.2,384.7 504.7,386.5 505.2,388.3 505.7,390.1 506.2,392.0 506.7,393.9 507.2,395.7 507.7,397.7 508.2,399.6 508.7,401.5 509.2,403.5 509.7,405.5 510.2,407.5 510.7,409.5 511.2,411.5 511.7,413.6 512.2,415.7 512.7,417.8 513.2,419.9 513.7,422.0 514.2,424.2 514.7,426.4 515.2,428.6 515.7,430.8 516.2,433.1 516.7,435.3 517.2,437.6 517.7,439.9 518.2,442.3 518.7,444.6 519.2,447.0 519.7,449.4 520.2,451.8 520.7,454.2 521.2,456.7 521.7,459.2 522.2,461.7 522.7,464.3 523.2,466.8 523.6,469.4 524.1,472.0 524.6,474.6 525.1,477.3 525.6,480.0 526.1,482.7 526.6,485.4 527.1,488.2 527.6,491.0 528.1,493.8 528.6,496.6 529.1,499.5 529.6,502.4 530.1,505.3 530.6,508.3 531.1,511.3 531.6,514.3 532.1,517.3 532.6,520.4 533.1,523.4 533.6,526.6 534.1,529.7 534.6,532.9 535.1,536.1 535.6,539.3 536.1,542.6 536.6,545.9 537.1,549.3 537.6,552.6 538.1,556.0 538.6,559.4 539.1,562.9 539.6,566.4 540.1,569.9 540.6,573.5 541.1,577.1 541.6,580.7 542.1,584.4 542.6,588.1 543.1,591.8 543.6,595.6 544.1,599.4 544.6,603.2 545.1,607.1 545.6,611.0 546.1,614.9 546.6,618.9 547.1,622.9 547.6,626.9 548.1,631.0 548.6,635.1 549.1,639.3 549.6,643.5 550.1,647.7 550.6,652.0 551.1,656.3 551.6,660.6 552.1,665.0 552.6,669.4 553.1,673.8 553.6,678.3 554.1,682.8 554.6,687.3 555.1,691.8 555.6,696.4 556.1,701.0 556.6,705.7 557.1,710.3 557.6,715.0 558.1,719.7 558.6,724.4 559.1,729.1 559.6,733.8 560.1,738.6 560.6,743.3 561.1,748.0 561.6,752.8 562.1,757.5 562.6,762.1 563.1,766.8 563.6,771.4 564.1,776.0 564.6,780.5 565.1,784.9 565.6,789.3 566.1,793.6 566.6,797.7 567.1,801.8 567.6,805.7 568.1,809.5 568.6,813.1 569.1,816.5 569.6,819.7 570.1,822.7 570.6,825.5 571.1,828.0 571.6,830.3 572.1,832.2 572.6,833.9 573.6,836.2 575.1,837.3 576.6,835.3 577.6,832.3 578.1,830.3 578.6,828.1 579.1,825.6 579.6,822.8 580.1,819.8 580.6,816.6 581.1,813.2 581.6,809.6 582.1,805.8 582.6,801.9 583.1,797.9 583.6,793.7 584.1,789.4 584.6,785.1 585.1,780.6 585.6,776.1 586.1,771.6 586.6,767.0 587.1,762.3 587.6,757.6 588.1,752.9 588.6,748.2 589.1,743.5 589.6,738.7 590.1,734.0 590.6,729.3 591.1,724.6 591.6,719.9 592.1,715.2 592.6,710.5 593.1,705.8 593.6,701.2 594.1,696.6 594.6,692.0 595.1,687.4 595.6,682.9 596.1,678.4 596.6,674.0 597.1,669.5 597.6,665.1 598.1,660.8 598.6,656.4 599.1,652.1 599.6,647.9 600.1,643.6 600.6,639.4 601.1,635.3 601.6,631.2 602.1,627.1 602.6,623.0 603.1,619.0 603.6,615.0 604.1,611.1 604.6,607.2 605.1,603.3 605.6,599.5 606.1,595.7 606.6,591.9 607.1,588.2 607.6,584.5 608.1,580.8 608.6,577.2 609.1,573.6 609.6,570.0 610.1,566.5 610.6,563.0 611.1,559.6 611.6,556.1 612.1,552.7 612.6,549.4 613.1,546.0 613.6,542.7 614.1,539.5 614.6,536.2 615.1,533.0 615.6,529.8 616.1,526.7 616.6,523.6 617.1,520.5 617.6,517.4 618.1,514.4 618.6,511.4 619.1,508.4 619.6,505.4 620.1,502.5 620.6,499.6 621.1,496.7 621.6,493.9 622.1,491.1 622.6,488.3 623.1,485.5 623.6,482.8 624.1,480.1 624.6,477.4 625.1,474.7 625.6,472.1 626.1,469.5 626.6,466.9 627.1,464.3 627.6,461.8 628.1,459.3 628.6,456.8 629.1,454.3 629.6,451.9 630.1,449.5 630.6,447.1 631.1,444.7 631.6,442.3 632.1,440.0 632.6,437.7 633.1,435.4 633.6,433.1 634.1,430.9 634.6,428.7 635.1,426.5 635.6,424.3 636.1,422.1 636.6,420.0 637.1,417.8 637.6,415.7 638.1,413.7 638.6,411.6 639.1,409.6 639.6,407.5 640.1,405.5 640.6,403.6 641.1,401.6 641.6,399.6 642.1,397.7 642.6,395.8 643.1,393.9 643.6,392.0 644.1,390.2 644.6,388.4 645.1,386.5 645.6,384.7 646.1,383.0 646.6,381.2 647.1,379.5 647.6,377.7 648.1,376.0 648.6,374.3 649.1,372.6 649.6,371.0 650.1,369.3 650.6,367.7 651.1,366.1 651.6,364.5 652.1,362.9 652.6,361.4 653.1,359.8 653.6,358.3 654.1,356.8 655.1,353.8 656.1,350.9 657.1,348.0 658.1,345.2 659.1,342.5 660.1,339.8 661.1,337.2 662.1,334.7 663.1,332.2 664.1,329.7 665.1,327.3 666.1,325.0 667.1,322.7 668.1,320.5 669.1,318.4 670.1,316.3 671.1,314.2 672.1,312.2 673.1,310.3 674.1,308.4 675.1,306.5 676.1,304.8 677.1,303.0 678.1,301.3 679.1,299.7 680.1,298.1 681.1,296.6 682.6,294.4 684.1,292.3 685.6,290.3 687.1,288.4 688.6,286.7 690.1,285.0 691.6,283.4 693.1,282.0 694.6,280.7 696.1,279.4 697.6,278.3 699.1,277.3 700.6,276.3 702.1,275.5 703.6,274.8 705.1,274.2 706.6,273.7 708.1,273.2 709.6,272.9 711.1,272.7 712.6,272.6 714.1,272.6 715.6,272.7 717.1,272.9 718.6,273.2 720.1,273.6 721.6,274.1 723.1,274.7 724.6,275.4 726.1,276.2 727.6,277.1 729.1,278.1 730.6,279.3 732.1,280.5 733.6,281.8 735.1,283.3 736.6,284.8 738.1,286.4 739.6,288.2 741.1,290.1 742.6,292.0 744.1,294.1 745.6,296.3 746.6,297.8 747.6,299.4 748.6,301.0 749.6,302.7 750.6,304.4 751.6,306.2 752.6,308.0 753.6,309.9 754.6,311.9 755.6,313.8 756.6,315.9 757.6,318.0 758.6,320.1 759.6,322.3 760.6,324.6 761.6,326.9 762.6,329.3 763.6,331.7 764.6,334.2 765.6,336.7 766.5,339.3 767.5,342.0 768.5,344.7 769.5,347.5 770.5,350.3 771.5,353.2 772.5,356.2 773.0,357.7 773.5,359.2 774.0,360.8 774.5,362.3 775.0,363.9 775.5,365.5 776.0,367.1 776.5,368.7 777.0,370.4 777.5,372.0 778.0,373.7 778.5,375.4 779.0,377.1 779.5,378.8 780.0,380.5 780.5,382.3 781.0,384.1 781.5,385.9 782.0,387.7 782.5,389.5 783.0,391.3 783.5,393.2 784.0,395.1 784.5,397.0 785.0,398.9 785.5,400.8 786.0,402.8 786.5,404.8 787.0,406.8 787.5,408.8 788.0,410.8 788.5,412.9 789.0,415.0 789.5,417.1 790.0,419.2 790.5,421.3 791.0,423.5 791.5,425.6 792.0,427.8 792.5,430.0 793.0,432.3 793.5,434.5 794.0,436.8 794.5,439.1 795.0,441.4 795.5,443.8 796.0,446.2 796.5,448.6 797.0,451.0 797.5,453.4 798.0,455.9 798.5,458.3 799.0,460.8 799.5,463.4 800.0,465.9 800.5,468.5 801.0,471.1 801.5,473.7 802.0,476.4 802.5,479.1 803.0,481.8 803.5,484.5 804.0,487.2 804.5,490.0 805.0,492.8 805.5,495.7 806.0,498.5 806.5,501.4 807.0,504.3 807.5,507.3 808.0,510.2 808.5,513.2 809.0,516.2 809.5,519.3 810.0,522.4 810.5,525.5 811.0,528.6 811.5,531.8 812.0,535.0 812.5,538.2 813.0,541.5 813.5,544.8 814.0,548.1 814.5,551.5 815.0,554.8 815.5,558.3 816.0,561.7 816.5,565.2 817.0,568.7 817.5,572.3 818.0,575.8 818.5,579.5 819.0,583.1 819.5,586.8 820.0,590.5 820.5,594.3 821.0,598.0 821.5,601.9 822.0,605.7 822.5,609.6 823.0,613.5 823.5,617.5 824.0,621.5 824.5,625.5 825.0,629.6 825.5,633.7 826.0,637.9 826.5,642.0 827.0,646.3 827.5,650.5 828.0,654.8 828.5,659.1 829.0,663.5 829.5,667.8 830.0,672.3 830.5,676.7 831.0,681.2 831.5,685.7 832.0,690.3 832.5,694.8 833.0,699.4 833.5,704.1 834.0,708.7 834.5,713.4 835.0,718.1 835.5,722.8 836.0,727.5 836.5,732.2 837.0,737.0 837.5,741.7 838.0,746.4 838.5,751.1 839.0,755.8 839.5,760.5 840.0,765.2 840.5,769.8 841.0,774.4 841.5,778.9 842.0,783.4 842.5,787.8 843.0,792.1 843.5,796.3 844.0,800.4 844.5,804.4 845.0,808.2 845.5,811.9 846.0,815.3 846.5,818.6 847.0,821.7 847.5,824.6 848.0,827.2 848.5,829.5 849.0,831.6 849.5,833.3 850.5,835.9 852.0,837.3 853.5,835.6 854.5,832.9 855.0,831.0 855.5,828.9 856.0,826.5 856.5,823.8 857.0,820.9 857.5,817.7 858.0,814.4 858.5,810.9 859.0,807.1 859.5,803.3 860.0,799.3 860.5,795.2 861.0,790.9 861.5,786.6 862.0,782.2 862.5,777.7 863.0,773.1 863.5,768.6 864.0,763.9 864.5,759.2 865.0,754.5 865.5,749.8 866.0,745.1 866.5,740.4 867.0,735.6 867.5,730.9 868.0,726.2 868.5,721.5 869.0,716.8 869.5,712.1 870.0,707.4 870.5,702.8 871.0,698.2 871.5,693.6 872.0,689.0 872.5,684.5 873.0,680.0 873.5,675.5 874.0,671.0 874.5,666.6 875.0,662.3 875.5,657.9 876.0,653.6 876.5,649.3 877.0,645.1 877.5,640.9 878.0,636.7 878.5,632.6 879.0,628.5 879.5,624.4 880.0,620.4 880.5,616.4 881.0,612.5 881.5,608.5 882.0,604.7 882.5,600.8 883.0,597.0 883.5,593.2 884.0,589.5 884.5,585.8 885.0,582.1 885.5,578.5 886.0,574.8 886.5,571.3 887.0,567.7 887.5,564.2 888.0,560.8 888.5,557.3 889.0,553.9 889.5,550.5 890.0,547.2 890.5,543.9 891.0,540.6 891.5,537.3 892.0,534.1 892.5,530.9 893.0,527.8 893.5,524.6 894.0,521.5 894.5,518.5 895.0,515.4 895.5,512.4 896.0,509.4 896.5,506.4 897.0,503.5 897.5,500.6 898.0,497.7 898.5,494.9 899.0,492.1 899.5,489.3 900.0,486.5 900.5,483.7 901.0,481.0 901.5,478.3 902.0,475.7 902.5,473.0 903.0,470.4 903.5,467.8 904.0,465.2 904.5,462.7 905.0,460.2 905.5,457.7 906.0,455.2 906.5,452.7 907.0,450.3 907.5,447.9 908.0,445.5 908.5,443.1 909.0,440.8 909.5,438.5 910.0,436.2 910.5,433.9 911.0,431.7 911.5,429.4 912.0,427.2 912.5,425.0 913.0,422.9 913.5,420.7 914.0,418.6 914.5,416.5 915.0,414.4 915.5,412.3 916.0,410.3 916.5,408.2 917.0,406.2 917.5,404.2 918.0,402.3 918.5,400.3 919.0,398.4 919.5,396.5 920.0,394.6 920.5,392.7 921.0,390.8 921.5,389.0 922.0,387.2 922.5,385.4 923.0,383.6 923.5,381.8 924.0,380.1 924.5,378.3 925.0,376.6 925.5,374.9 926.0,373.2 926.5,371.5 927.0,369.9 927.5,368.3 928.0,366.6 928.5,365.0 929.0,363.5 929.5,361.9 930.0,360.3 930.5,358.8 931.0,357.3 931.5,355.8 932.5,352.8 933.5,349.9 934.5,347.1 935.5,344.3 936.5,341.6 937.5,339.0 938.5,336.4 939.5,333.8 940.5,331.4 941.5,328.9 942.5,326.6 943.5,324.3 944.5,322.0 945.5,319.8 946.5,317.7 947.5,315.6 948.5,313.6 949.5,311.6 950.5,309.7 951.5,307.8 952.5,306.0 953.5,304.2 954.5,302.5 955.5,300.8 956.5,299.2 957.5,297.6 958.5,296.1 960.0,293.9 961.5,291.8 963.0,289.9 964.5,288.0 966.0,286.3 967.5,284.6 969.0,283.1 970.5,281.7 972.0,280.4 973.5,279.2 975.0,278.1 976.5,277.0 978.0,276.1 979.5,275.3 981.0,274.6 982.5,274.1 984.0,273.6 985.5,273.2 987.0,272.9 988.5,272.7 990.0,272.6 991.5,272.6 993.0,272.7 994.5,273.0 996.0,273.3 997.5,273.7 999.0,274.2 1000.5,274.9 1002.0,275.6 1003.5,276.4 1005.0,277.3 1006.5,278.4 1008.0,279.5 1009.4,280.8 1010.9,282.1 1012.4,283.6 1013.9,285.1 1015.4,286.8 1016.9,288.6 1018.4,290.5 1019.9,292.5 1021.4,294.6 1022.9,296.8 1023.9,298.3 1024.9,299.9 1025.9,301.6 1026.9,303.3 1027.9,305.0 1028.9,306.8 1029.9,308.6 1030.9,310.5 1031.9,312.5 1032.9,314.5 1033.9,316.6 1034.9,318.7 1035.9,320.8 1036.9,323.1 1037.9,325.3 1038.9,327.7 1039.9,330.1 1040.9,332.5 1041.9,335.0 1042.9,337.6 1043.9,340.2 1044.9,342.9 1045.9,345.6 1046.9,348.4 1047.9,351.3 1048.9,354.2 1049.9,357.2 1050.4,358.7 1050.9,360.2 1051.4,361.8 1051.9,363.4 1052.4,364.9 1052.9,366.5 1053.4,368.2 1053.9,369.8 1054.4,371.4 1054.9,373.1 1055.4,374.8 1055.9,376.5 1056.4,378.2 1056.9,379.9 1057.4,381.7 1057.9,383.5 1058.4,385.2 1058.9,387.0 1059.4,388.9 1059.9,390.7 1060.4,392.6 1060.9,394.4 1061.4,396.3 1061.9,398.2 1062.4,400.2 1062.9,402.1 1063.4,404.1 1063.9,406.1 1064.4,408.1 1064.9,410.1 1065.4,412.2 1065.9,414.2 1066.4,416.3 1066.9,418.4 1067.4,420.6 1067.9,422.7 1068.4,424.9 1068.9,427.1 1069.4,429.3 1069.9,431.5 1070.4,433.8 1070.9,436.0 1071.4,438.3 1071.9,440.6 1072.4,443.0 1072.9,445.3 1073.4,447.7 1073.9,450.1 1074.4,452.6 1074.9,455.0 1075.4,457.5 1075.9,460.0 1076.4,462.5 1076.9,465.0 1077.4,467.6 1077.9,470.2 1078.4,472.8 1078.9,475.5 1079.4,478.1 1079.9,480.8 1080.4,483.6 1080.9,486.3 1081.4,489.1 1081.9,491.9 1082.4,494.7 1082.9,497.5 1083.4,500.4 1083.9,503.3 1084.4,506.2 1084.9,509.2 1085.4,512.2 1085.9,515.2 1086.4,518.2 1086.9,521.3 1087.4,524.4 1087.9,527.5 1088.4,530.7 1088.9,533.9 1089.4,537.1 1089.9,540.4 1090.4,543.6 1090.9,547.0 1091.4,550.3 1091.9,553.7 1092.4,557.1 1092.9,560.5 1093.4,564.0 1093.9,567.5 1094.4,571.0 1094.9,574.6 1095.4,578.2 1095.9,581.8 1096.4,585.5 1096.9,589.2 1097.4,593.0 1097.9,596.7 1098.4,600.5 1098.9,604.4 1099.4,608.3 1099.9,612.2 1100.4,616.1 1100.9,620.1 1101.4,624.1 1101.9,628.2 1102.4,632.3 1102.9,636.4 1103.4,640.6 1103.9,644.8 1104.4,649.0 1104.9,653.3 1105.4,657.6 1105.9,662.0 1106.4,666.3 1106.9,670.7 1107.4,675.2 1107.9,679.7 1108.4,684.2 1108.9,688.7 1109.4,693.3 1109.9,697.8 1110.4,702.5 1110.9,707.1 1111.4,711.8 1111.9,716.5 1112.4,721.2 1112.9,725.9 1113.4,730.6 1113.9,735.3 1114.4,740.1 1114.9,744.8 1115.4,749.5 1115.9,754.2 1116.4,758.9 1116.9,763.6 1117.4,768.2 1117.9,772.8 1118.4,777.4 1118.9,781.9 1119.4,786.3 1119.9,790.6 1120.4,794.9 1120.9,799.0 1121.4,803.0 1121.9,806.9 1122.4,810.6 1122.9,814.2 1123.4,817.5 1123.9,820.7 1124.4,823.6 1124.9,826.3 1125.4,828.7 1125.9,830.9 1126.4,832.8 1126.9,834.3 1127.9,836.5 1129.4,837.2 1130.9,834.9 1131.9,831.7 1132.4,829.7 1132.9,827.3 1133.4,824.8 1133.9,821.9 1134.4,818.9 1134.9,815.6 1135.4,812.1 1135.9,808.4 1136.4,804.6 1136.9,800.7 1137.4,796.6 1137.9,792.4 1138.4,788.1 1138.9,783.7 1139.4,779.2 1139.9,774.7 1140.4,770.1 1140.9,765.5 1141.4,760.9 1141.9,756.2 1142.4,751.5 1142.9,746.7 1143.4,742.0 1143.9,737.3 1144.4,732.5 1144.9,727.8 1145.4,723.1 1145.9,718.4 1146.4,713.7 1146.9,709.0 1147.4,704.4 1147.9,699.8 1148.4,695.2 1148.9,690.6 1149.4,686.0 1149.9,681.5 1150.4,677.0 1150.9,672.6 1151.4,668.2 1151.9,663.8 1152.4,659.4 1152.9,655.1 1153.4,650.8 1153.9,646.5 1154.4,642.3 1154.9,638.1 1155.4,634.0 1155.9,629.9 1156.4,625.8 1156.9,621.8 1157.4,617.8 1157.9,613.8 1158.4,609.9 1158.9,606.0 1159.4,602.1 1159.9,598.3 1160.4,594.5 1160.9,590.8 1161.4,587.0 1161.9,583.4 1162.4,579.7 1162.9,576.1 1163.4,572.5 1163.9,568.9 1164.4,565.4 1164.9,561.9 1165.4,558.5 1165.9,555.1 1166.4,551.7 1166.9,548.3 1167.4,545.0 1167.9,541.7 1168.4,538.5 1168.9,535.2 1169.4,532.0 1169.9,528.8 1170.4,525.7 1170.9,522.6 1171.4,519.5 1171.9,516.5 1172.4,513.4 1172.9,510.4 1173.4,507.5 1173.9,504.5 1174.4,501.6 1174.9,498.7 1175.4,495.9 1175.9,493.0 1176.4,490.2 1176.9,487.4 1177.4,484.7 1177.9,482.0 1178.4,479.3 1178.9,476.6 1179.4,473.9 1179.9,471.3 1180.4,468.7 1180.9,466.1 1181.4,463.6 1181.9,461.0 1182.4,458.5 1182.9,456.0 1183.4,453.6 1183.9,451.1 1184.4,448.7 1184.9,446.3 1185.4,444.0 1185.9,441.6 1186.4,439.3 1186.9,437.0 1187.4,434.7 1187.9,432.4 1188.4,430.2 1188.9,428.0 1189.4,425.8 1189.9,423.6 1190.4,421.4 1190.9,419.3 1191.4,417.2 1191.9,415.1 1192.4,413.0 1192.9,411.0 1193.4,408.9 1193.9,406.9 1194.4,404.9 1194.9,402.9 1195.4,401.0 1195.9,399.0 1196.4,397.1 1196.9,395.2 1197.4,393.3 1197.9,391.5 1198.4,389.6 1198.9,387.8 1199.4,386.0 1199.9,384.2 1200.4,382.4 1200.9,380.7 1201.4,378.9 1201.9,377.2 1202.4,375.5 1202.9,373.8 1203.4,372.1 1203.9,370.5 1204.4,368.8 1204.9,367.2 1205.4,365.6 1205.9,364.0 1206.4,362.4 1206.9,360.9 1207.4,359.3 1207.9,357.8 1208.4,356.3 1209.4,353.3 1210.4,350.4 1211.4,347.6 1212.4,344.8 1213.4,342.1 1214.4,339.4 1215.4,336.8 1216.4,334.3 1217.4,331.8 1218.4,329.4 1219.4,327.0 1220.4,324.7 1221.4,322.4 1222.4,320.2 1223.4,318.0 1224.4,315.9 1225.4,313.9 1226.4,311.9 1227.4,310.0 1228.4,308.1 1229.4,306.3 1230.4,304.5 1231.4,302.8 1232.4,301.1 1233.4,299.5 1234.4,297.9 1235.4,296.4 1236.9,294.2 1238.4,292.1 1239.9,290.1 1241.4,288.2 1242.9,286.5 1244.4,284.8 1245.9,283.3 1247.4,281.9 1248.9,280.5 1250.4,279.3 1251.8,278.2 1253.3,277.2 1254.8,276.2 1256.3,275.4 1257.8,274.7 1259.3,274.1 1260.8,273.6 1262.3,273.2 1263.8,272.9 1265.3,272.7 1266.8,272.6 1268.3,272.6 1269.8,272.7 1271.3,272.9 1272.8,273.2 1274.3,273.6 1275.8,274.2 1277.3,274.8 1278.8,275.5 1280.3,276.3 1281.8,277.2 1283.3,278.3 1284.8,279.4 1286.3,280.6 1287.8,282.0 1289.3,283.4 1290.8,285.0 1292.3,286.6 1293.8,288.4 1295.3,290.3 1296.8,292.2 1298.3,294.3 1299.8,296.5 1300.8,298.1 1301.8,299.7 1302.8,301.3 1303.8,303.0 1304.8,304.7 1305.8,306.5 1306.8,308.3 1307.8,310.2 1308.8,312.2 1309.8,314.2 1310.8,316.2 1311.8,318.3 1312.8,320.5 1313.8,322.7 1314.8,324.9 1315.8,327.3 1316.8,329.6 1317.8,332.1 1318.8,334.6 1319.8,337.1 1320.8,339.7 1321.8,342.4 1322.8,345.1 1323.8,347.9 1324.8,350.8 1325.8,353.7 1326.8,356.7 1327.3,358.2 1327.8,359.7 1328.3,361.3 1328.8,362.8 1329.3,364.4 1329.8,366.0 1330.3,367.6 1330.8,369.2 1331.3,370.9 1331.8,372.5 1332.3,374.2 1332.8,375.9 1333.3,377.6 1333.8,379.3 1334.3,381.1 1334.8,382.8 1335.3,384.6 1335.8,386.4 1336.3,388.2 1336.8,390.1 1337.3,391.9 1337.8,393.8 1338.3,395.7 1338.8,397.6 1339.3,399.5 1339.8,401.5 1340.3,403.4 1340.8,405.4 1341.3,407.4 1341.8,409.4 1342.3,411.5 1342.8,413.5 1343.3,415.6 1343.8,417.7 1344.3,419.8 1344.8,422.0 1345.3,424.1 1345.8,426.3 1346.3,428.5 1346.8,430.7 1347.3,433.0 1347.8,435.2 1348.3,437.5 1348.8,439.8 1349.3,442.2 1349.8,444.5 1350.3,446.9 1350.8,449.3 1351.3,451.7 1351.8,454.2 1352.3,456.6 1352.8,459.1 1353.3,461.6 1353.8,464.2 1354.3,466.7 1354.8,469.3 1355.3,471.9 1355.8,474.6 1356.3,477.2 1356.8,479.9 1357.3,482.6 1357.8,485.3 1358.3,488.1 1358.8,490.9 1359.3,493.7 1359.8,496.5 1360.3,499.4 1360.8,502.3 1361.3,505.2 1361.8,508.2 1362.3,511.2 1362.8,514.2 1363.3,517.2 1363.8,520.3 1364.3,523.3 1364.8,526.5 1365.3,529.6 1365.8,532.8 1366.3,536.0 1366.8,539.2 1367.3,542.5 1367.8,545.8 1368.3,549.1 1368.8,552.5 1369.3,555.9 1369.8,559.3 1370.3,562.8 1370.8,566.3 1371.3,569.8 1371.8,573.4 1372.3,577.0 1372.8,580.6" fill="none" stroke="#0f837e" stroke-width="6.7" stroke-linejoin="round" stroke-linecap="round"/>
<path d="M159.3,289.6L175.3,264.1L143.3,264.1Z" fill="#0f837e"/>
<path d="M199.8,327.5L215.8,302.0L183.8,302.0Z" fill="#0f837e"/>
<path d="M240.2,455.1L256.2,429.6L224.2,429.6Z" fill="#0f837e"/>
<path d="M280.7,732.7L296.7,707.2L264.7,707.2Z" fill="#0f837e"/>
<path d="M321.1,677.4L337.1,651.9L305.1,651.9Z" fill="#0f837e"/>
<path d="M361.6,428.6L377.6,403.1L345.6,403.1Z" fill="#0f837e"/>
<path d="M402.0,316.8L418.0,291.3L386.0,291.3Z" fill="#0f837e"/>
<path d="M442.5,290.4L458.5,264.9L426.5,264.9Z" fill="#0f837e"/>
<path d="M482.9,340.2L498.9,314.7L466.9,314.7Z" fill="#0f837e"/>
<path d="M523.4,484.8L539.4,459.3L507.4,459.3Z" fill="#0f837e"/>
<path d="M563.8,789.9L579.8,764.4L547.8,764.4Z" fill="#0f837e"/>
<path d="M604.2,627.1L620.2,601.6L588.2,601.6Z" fill="#0f837e"/>
<path d="M644.7,405.0L660.7,379.5L628.7,379.5Z" fill="#0f837e"/>
<path d="M685.2,307.9L701.2,282.4L669.2,282.4Z" fill="#0f837e"/>
<path d="M725.6,293.0L741.6,267.5L709.6,267.5Z" fill="#0f837e"/>
<path d="M766.0,355.0L782.0,329.5L750.0,329.5Z" fill="#0f837e"/>
<path d="M806.5,518.2L822.5,492.7L790.5,492.7Z" fill="#0f837e"/>
<path d="M847.0,838.3L863.0,812.8L831.0,812.8Z" fill="#0f837e"/>
<path d="M887.4,581.9L903.4,556.4L871.4,556.4Z" fill="#0f837e"/>
<path d="M927.9,384.1L943.9,358.6L911.9,358.6Z" fill="#0f837e"/>
<path d="M968.3,300.8L984.3,275.3L952.3,275.3Z" fill="#0f837e"/>
<path d="M1008.8,297.2L1024.8,271.7L992.8,271.7Z" fill="#0f837e"/>
<path d="M1049.2,372.0L1065.2,346.5L1033.2,346.5Z" fill="#0f837e"/>
<path d="M1089.7,555.6L1105.7,530.1L1073.7,530.1Z" fill="#0f837e"/>
<path d="M1130.1,855.4L1146.1,829.9L1114.1,829.9Z" fill="#0f837e"/>
<path d="M1170.5,541.7L1186.5,516.2L1154.5,516.2Z" fill="#0f837e"/>
<path d="M1211.0,365.6L1227.0,340.1L1195.0,340.1Z" fill="#0f837e"/>
<path d="M1251.5,295.5L1267.5,270.0L1235.5,270.0Z" fill="#0f837e"/>
<path d="M1291.9,303.1L1307.9,277.6L1275.9,277.6Z" fill="#0f837e"/>
<path d="M1332.4,391.3L1348.4,365.8L1316.4,365.8Z" fill="#0f837e"/>
<path d="M1372.8,597.6L1388.8,572.1L1356.8,572.1Z" fill="#0f837e"/>
</g>
<text x="128.2" y="925.0" class="tl" text-anchor="end" transform="translate(128.2,0) scale(1.06,1) translate(-128.2,0)">0.0</text>
<text x="128.2" y="796.5" class="tl" text-anchor="end" transform="translate(128.2,0) scale(1.06,1) translate(-128.2,0)">0.2</text>
<text x="128.2" y="668.0" class="tl" text-anchor="end" transform="translate(128.2,0) scale(1.06,1) translate(-128.2,0)">0.4</text>
<text x="128.2" y="539.4" class="tl" text-anchor="end" transform="translate(128.2,0) scale(1.06,1) translate(-128.2,0)">0.6</text>
<text x="128.2" y="410.9" class="tl" text-anchor="end" transform="translate(128.2,0) scale(1.06,1) translate(-128.2,0)">0.8</text>
<text x="128.2" y="282.4" class="tl" text-anchor="end" transform="translate(128.2,0) scale(1.06,1) translate(-128.2,0)"><tspan class="one">1</tspan>.0</text>
<text x="128.2" y="153.9" class="tl" text-anchor="end" transform="translate(128.2,0) scale(1.06,1) translate(-128.2,0)"><tspan class="one">1</tspan>.2</text>
<text x="128.2" y="25.4" class="tl" text-anchor="end" transform="translate(128.2,0) scale(1.06,1) translate(-128.2,0)"><tspan class="one">1</tspan>.4</text>
<text x="159.3" y="971.6" class="tl" text-anchor="middle" transform="translate(159.3,0) scale(1.06,1) translate(-159.3,0)">0.0</text>
<text x="240.3" y="971.6" class="tl" text-anchor="middle" transform="translate(240.3,0) scale(1.06,1) translate(-240.3,0)">0.2</text>
<text x="321.4" y="971.6" class="tl" text-anchor="middle" transform="translate(321.4,0) scale(1.06,1) translate(-321.4,0)">0.4</text>
<text x="402.4" y="971.6" class="tl" text-anchor="middle" transform="translate(402.4,0) scale(1.06,1) translate(-402.4,0)">0.6</text>
<text x="483.4" y="971.6" class="tl" text-anchor="middle" transform="translate(483.4,0) scale(1.06,1) translate(-483.4,0)">0.8</text>
<text x="564.4" y="971.6" class="tl" text-anchor="middle" transform="translate(564.4,0) scale(1.06,1) translate(-564.4,0)"><tspan class="one">1</tspan>.0</text>
<text x="645.5" y="971.6" class="tl" text-anchor="middle" transform="translate(645.5,0) scale(1.06,1) translate(-645.5,0)"><tspan class="one">1</tspan>.2</text>
<text x="726.5" y="971.6" class="tl" text-anchor="middle" transform="translate(726.5,0) scale(1.06,1) translate(-726.5,0)"><tspan class="one">1</tspan>.4</text>
<text x="807.5" y="971.6" class="tl" text-anchor="middle" transform="translate(807.5,0) scale(1.06,1) translate(-807.5,0)"><tspan class="one">1</tspan>.6</text>
<text x="888.6" y="971.6" class="tl" text-anchor="middle" transform="translate(888.6,0) scale(1.06,1) translate(-888.6,0)"><tspan class="one">1</tspan>.8</text>
<text x="969.6" y="971.6" class="tl" text-anchor="middle" transform="translate(969.6,0) scale(1.06,1) translate(-969.6,0)">2.0</text>
<text x="1050.6" y="971.6" class="tl" text-anchor="middle" transform="translate(1050.6,0) scale(1.06,1) translate(-1050.6,0)">2.2</text>
<text x="1131.7" y="971.6" class="tl" text-anchor="middle" transform="translate(1131.7,0) scale(1.06,1) translate(-1131.7,0)">2.4</text>
<text x="1212.7" y="971.6" class="tl" text-anchor="middle" transform="translate(1212.7,0) scale(1.06,1) translate(-1212.7,0)">2.6</text>
<text x="1293.7" y="971.6" class="tl" text-anchor="middle" transform="translate(1293.7,0) scale(1.06,1) translate(-1293.7,0)">2.8</text>
<text x="1374.8" y="971.6" class="tl" text-anchor="middle" transform="translate(1374.8,0) scale(1.06,1) translate(-1374.8,0)">3.0</text>
<rect x="1099.4" y="13.6" width="267.6" height="175.7" fill="#fff" stroke="#231f20" stroke-width="1.6"/>
<line x1="1111" y1="37.4" x2="1177.5" y2="37.4" stroke="#231f20" stroke-width="6.6" stroke-linecap="round"/>
<rect x="1132.0" y="26.0" width="24.9" height="22.7" fill="#231f20"/>
<text x="1192.2" y="46.4" class="lg" transform="translate(1192.2,0) scale(1.016,1) translate(-1192.2,0)">T<tspan class="sub" dy="10.4">e</tspan><tspan dy="-10.4">= 6.25 KeV</tspan></text>
<line x1="1111" y1="79.9" x2="1177.5" y2="79.9" stroke="#ed1c24" stroke-width="6.6" stroke-linecap="round"/>
<ellipse cx="1144.5" cy="79.9" rx="12.8" ry="12.7" fill="#ed1c24"/>
<text x="1192.2" y="88.9" class="lg" transform="translate(1192.2,0) scale(1.016,1) translate(-1192.2,0)">T<tspan class="sub" dy="10.4">e</tspan><tspan dy="-10.4">= <tspan class="one">1</tspan>2.5 KeV</tspan></text>
<line x1="1111" y1="122.6" x2="1177.5" y2="122.6" stroke="#3a54a5" stroke-width="6.6" stroke-linecap="round"/>
<path d="M1144.5,105.7L1160.5,131.0L1128.5,131.0Z" fill="#3a54a5"/>
<text x="1192.2" y="131.6" class="lg" transform="translate(1192.2,0) scale(1.016,1) translate(-1192.2,0)">T<tspan class="sub" dy="10.4">e</tspan><tspan dy="-10.4">= <tspan class="one">1</tspan>5 KeV</tspan></text>
<line x1="1111" y1="165.3" x2="1177.5" y2="165.3" stroke="#0f837e" stroke-width="6.6" stroke-linecap="round"/>
<path d="M1144.5,182.3L1160.5,156.8L1128.5,156.8Z" fill="#0f837e"/>
<text x="1192.2" y="174.3" class="lg" transform="translate(1192.2,0) scale(1.016,1) translate(-1192.2,0)">T<tspan class="sub" dy="10.4">e</tspan><tspan dy="-10.4">= 25 KeV</tspan></text>
<text class="yl" transform="translate(34,749.3) scale(1.1,1) rotate(-90)">beam width parameter (f)</text>
<line x1="16.3" y1="238.6" x2="16.3" y2="125" stroke="#231f20" stroke-width="1.8"/>
<path d="M16.3,104.1L22.8,127.3L9.9,127.3Z" fill="#231f20"/>
<line x1="14" y1="774.5" x2="14" y2="867.5" stroke="#333" stroke-width="2.1" stroke-linecap="round"/>
<line x1="531.5" y1="1028.6" x2="709" y2="1028.6" stroke="#231f20" stroke-width="2.2" stroke-linecap="round"/>
<line x1="772.5" y1="1028.6" x2="918" y2="1028.6" stroke="#231f20" stroke-width="2.2" stroke-linecap="round"/>
<path d="M916.3,1022.7L941.1,1028.6L916.3,1034.3Z" fill="#231f20"/>
<path d="M743.6,1009.3 C741.2,1009.5 739.5,1011 739.5,1012.8 C739.6,1014.4 740.8,1015.3 742.3,1015.3 C739.5,1017.6 736.6,1021.5 735.4,1025.5 C734.1,1030 734.3,1034 736.1,1037 C738.1,1039.6 741.6,1039.8 745.1,1039.5 C749.1,1039.2 752.6,1038.6 754.3,1040.6 C755.6,1042.3 755.2,1045.5 753.1,1047 C751.6,1048.1 748.6,1048.6 746.2,1049.6 L746.2,1053" fill="none" stroke="#231f20" stroke-width="2.6" stroke-linecap="round"/>
<path d="M736.3,1037.4 C738.5,1039.8 742,1040.1 745.2,1039.8 C748.5,1039.5 751,1039 752.8,1039.6" fill="none" stroke="#231f20" stroke-width="3.8" stroke-linecap="round"/>
<ellipse cx="748.6" cy="1012.9" rx="6.6" ry="1.9" transform="rotate(-20 748.6 1012.9)" fill="#231f20"/>
<path d="M744.5,1050 C746.5,1048.8 748.5,1048.6 750.5,1048 L749,1052 L744.5,1052 Z" fill="#231f20"/>
<path fill="#231f20" d="M763,0 L583,0 L583,1147 C540,1106 484,1065 414,1024 C344,983 280,952 223,931 L223,1105 C323,1152 411,1210 486,1277 C561,1344 614,1407 645,1466 L763,1466 Z" transform="translate(128.2,0) scale(1.06,1) translate(-128.2,0) translate(78.16,282.40) scale(0.01758,-0.01758)"/>
<path fill="#231f20" d="M763,0 L583,0 L583,1147 C540,1106 484,1065 414,1024 C344,983 280,952 223,931 L223,1105 C323,1152 411,1210 486,1277 C561,1344 614,1407 645,1466 L763,1466 Z" transform="translate(128.2,0) scale(1.06,1) translate(-128.2,0) translate(78.16,153.90) scale(0.01758,-0.01758)"/>
<path fill="#231f20" d="M763,0 L583,0 L583,1147 C540,1106 484,1065 414,1024 C344,983 280,952 223,931 L223,1105 C323,1152 411,1210 486,1277 C561,1344 614,1407 645,1466 L763,1466 Z" transform="translate(128.2,0) scale(1.06,1) translate(-128.2,0) translate(78.16,25.40) scale(0.01758,-0.01758)"/>
<path fill="#231f20" d="M763,0 L583,0 L583,1147 C540,1106 484,1065 414,1024 C344,983 280,952 223,931 L223,1105 C323,1152 411,1210 486,1277 C561,1344 614,1407 645,1466 L763,1466 Z" transform="translate(564.4,0) scale(1.06,1) translate(-564.4,0) translate(539.38,971.60) scale(0.01758,-0.01758)"/>
<path fill="#231f20" d="M763,0 L583,0 L583,1147 C540,1106 484,1065 414,1024 C344,983 280,952 223,931 L223,1105 C323,1152 411,1210 486,1277 C561,1344 614,1407 645,1466 L763,1466 Z" transform="translate(645.5,0) scale(1.06,1) translate(-645.5,0) translate(620.48,971.60) scale(0.01758,-0.01758)"/>
<path fill="#231f20" d="M763,0 L583,0 L583,1147 C540,1106 484,1065 414,1024 C344,983 280,952 223,931 L223,1105 C323,1152 411,1210 486,1277 C561,1344 614,1407 645,1466 L763,1466 Z" transform="translate(726.5,0) scale(1.06,1) translate(-726.5,0) translate(701.48,971.60) scale(0.01758,-0.01758)"/>
<path fill="#231f20" d="M763,0 L583,0 L583,1147 C540,1106 484,1065 414,1024 C344,983 280,952 223,931 L223,1105 C323,1152 411,1210 486,1277 C561,1344 614,1407 645,1466 L763,1466 Z" transform="translate(807.5,0) scale(1.06,1) translate(-807.5,0) translate(782.48,971.60) scale(0.01758,-0.01758)"/>
<path fill="#231f20" d="M763,0 L583,0 L583,1147 C540,1106 484,1065 414,1024 C344,983 280,952 223,931 L223,1105 C323,1152 411,1210 486,1277 C561,1344 614,1407 645,1466 L763,1466 Z" transform="translate(888.6,0) scale(1.06,1) translate(-888.6,0) translate(863.58,971.60) scale(0.01758,-0.01758)"/>
<path fill="#231f20" d="M763,0 L583,0 L583,1147 C540,1106 484,1065 414,1024 C344,983 280,952 223,931 L223,1105 C323,1152 411,1210 486,1277 C561,1344 614,1407 645,1466 L763,1466 Z" transform="translate(1192.2,0) scale(1.016,1) translate(-1192.2,0) translate(1243.46,88.90) scale(0.01387,-0.01387)"/>
<path fill="#231f20" d="M763,0 L583,0 L583,1147 C540,1106 484,1065 414,1024 C344,983 280,952 223,931 L223,1105 C323,1152 411,1210 486,1277 C561,1344 614,1407 645,1466 L763,1466 Z" transform="translate(1192.2,0) scale(1.016,1) translate(-1192.2,0) translate(1243.46,131.60) scale(0.01387,-0.01387)"/>
</svg>
</body></html>
